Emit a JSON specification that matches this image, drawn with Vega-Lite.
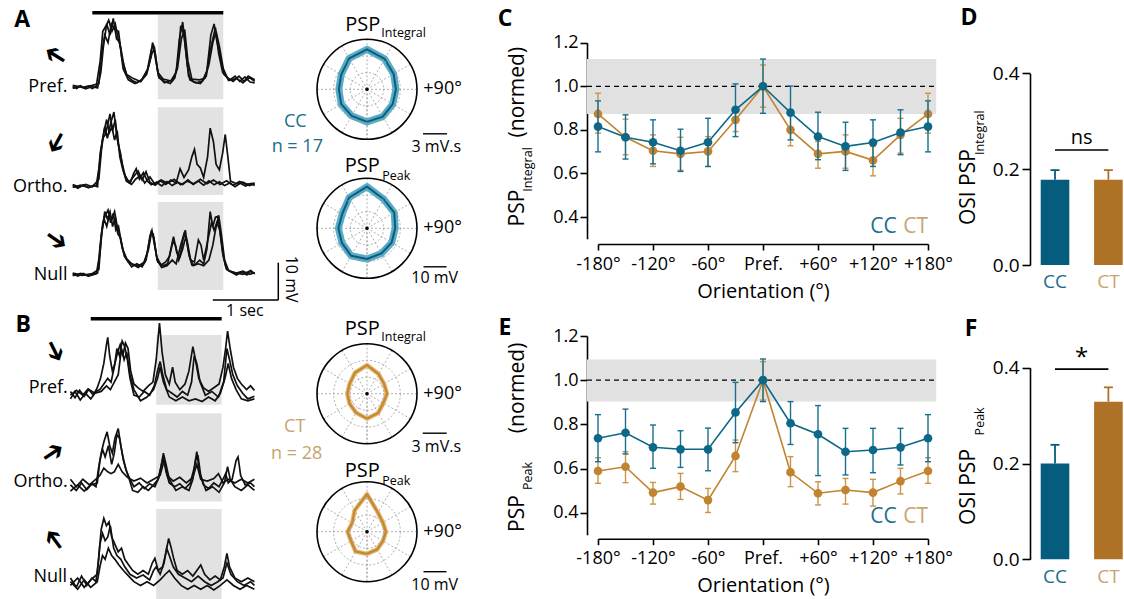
{
"$schema": "https://vega.github.io/schema/vega-lite/v6.json",
"padding": 0,
"background": "white",
"bounds": "flush",
"spacing": 0,
"columns": 4,
"config": {
 "view": {"stroke": null},
 "font": "Open Sans",
 "text": {"font": "Open Sans", "color": "#000"},
 "axis": {"grid": false, "domainColor": "#000", "domainWidth": 1.6, "tickColor": "#000", "tickWidth": 1.6, "labelColor": "#000", "labelFont": "Open Sans", "labelFontSize": 18, "titleFont": "Open Sans", "titleFontSize": 20, "titleFontWeight": "normal", "titleColor": "#000", "labelFlush": false, "labelOverlap": false}
},
"datasets": {
"traces": [
{"k":"AP","s":1,"t":-0.3,"v":0.2},{"k":"AP","s":1,"t":-0.24,"v":-0.3},{"k":"AP","s":1,"t":-0.18,"v":0.4},{"k":"AP","s":1,"t":-0.12,"v":-0.2},{"k":"AP","s":1,"t":-0.06,"v":0.3},{"k":"AP","s":1,"t":0,"v":-0.3},{"k":"AP","s":1,"t":0.06,"v":0.3},{"k":"AP","s":1,"t":0.12,"v":7},{"k":"AP","s":1,"t":0.16,"v":15},{"k":"AP","s":1,"t":0.21,"v":16.5},{"k":"AP","s":1,"t":0.25,"v":18},{"k":"AP","s":1,"t":0.3,"v":15},{"k":"AP","s":1,"t":0.35,"v":17},{"k":"AP","s":1,"t":0.39,"v":13.5},{"k":"AP","s":1,"t":0.44,"v":10},{"k":"AP","s":1,"t":0.48,"v":6},{"k":"AP","s":1,"t":0.53,"v":3},{"k":"AP","s":1,"t":0.61,"v":1.8},{"k":"AP","s":1,"t":0.68,"v":1.2},{"k":"AP","s":1,"t":0.76,"v":2.2},{"k":"AP","s":1,"t":0.84,"v":4.5},{"k":"AP","s":1,"t":0.9,"v":10},{"k":"AP","s":1,"t":0.93,"v":11.5},{"k":"AP","s":1,"t":0.97,"v":7},{"k":"AP","s":1,"t":1.02,"v":2.5},{"k":"AP","s":1,"t":1.11,"v":1.5},{"k":"AP","s":1,"t":1.19,"v":1},{"k":"AP","s":1,"t":1.26,"v":2.5},{"k":"AP","s":1,"t":1.31,"v":7},{"k":"AP","s":1,"t":1.35,"v":16.5},{"k":"AP","s":1,"t":1.4,"v":14},{"k":"AP","s":1,"t":1.45,"v":6},{"k":"AP","s":1,"t":1.49,"v":2},{"k":"AP","s":1,"t":1.58,"v":1.2},{"k":"AP","s":1,"t":1.68,"v":1.6},{"k":"AP","s":1,"t":1.75,"v":4.5},{"k":"AP","s":1,"t":1.81,"v":14},{"k":"AP","s":1,"t":1.86,"v":17},{"k":"AP","s":1,"t":1.9,"v":12.5},{"k":"AP","s":1,"t":1.95,"v":8.5},{"k":"AP","s":1,"t":2.01,"v":3.5},{"k":"AP","s":1,"t":2.1,"v":2},{"k":"AP","s":1,"t":2.18,"v":3},{"k":"AP","s":1,"t":2.25,"v":1.6},{"k":"AP","s":1,"t":2.33,"v":2.8},{"k":"AP","s":1,"t":2.41,"v":1.4},{"k":"AP","s":1,"t":2.48,"v":1.2},
{"k":"AP","s":2,"t":-0.3,"v":-0.3},{"k":"AP","s":2,"t":-0.2,"v":0.3},{"k":"AP","s":2,"t":-0.1,"v":-0.4},{"k":"AP","s":2,"t":0,"v":0.2},{"k":"AP","s":2,"t":0.08,"v":-0.2},{"k":"AP","s":2,"t":0.13,"v":4},{"k":"AP","s":2,"t":0.17,"v":11},{"k":"AP","s":2,"t":0.22,"v":17},{"k":"AP","s":2,"t":0.27,"v":14},{"k":"AP","s":2,"t":0.32,"v":18.5},{"k":"AP","s":2,"t":0.37,"v":13},{"k":"AP","s":2,"t":0.42,"v":12},{"k":"AP","s":2,"t":0.47,"v":5},{"k":"AP","s":2,"t":0.55,"v":2},{"k":"AP","s":2,"t":0.65,"v":1},{"k":"AP","s":2,"t":0.75,"v":1.8},{"k":"AP","s":2,"t":0.83,"v":3.5},{"k":"AP","s":2,"t":0.89,"v":8},{"k":"AP","s":2,"t":0.92,"v":12},{"k":"AP","s":2,"t":0.96,"v":9},{"k":"AP","s":2,"t":1.01,"v":3},{"k":"AP","s":2,"t":1.1,"v":1.2},{"k":"AP","s":2,"t":1.2,"v":1.8},{"k":"AP","s":2,"t":1.28,"v":4},{"k":"AP","s":2,"t":1.33,"v":13},{"k":"AP","s":2,"t":1.38,"v":17.5},{"k":"AP","s":2,"t":1.42,"v":11},{"k":"AP","s":2,"t":1.47,"v":3},{"k":"AP","s":2,"t":1.55,"v":1.4},{"k":"AP","s":2,"t":1.65,"v":1},{"k":"AP","s":2,"t":1.74,"v":3},{"k":"AP","s":2,"t":1.79,"v":9},{"k":"AP","s":2,"t":1.84,"v":13},{"k":"AP","s":2,"t":1.88,"v":16},{"k":"AP","s":2,"t":1.93,"v":9},{"k":"AP","s":2,"t":1.99,"v":4},{"k":"AP","s":2,"t":2.06,"v":2.6},{"k":"AP","s":2,"t":2.15,"v":1.6},{"k":"AP","s":2,"t":2.24,"v":3},{"k":"AP","s":2,"t":2.32,"v":1.5},{"k":"AP","s":2,"t":2.4,"v":2.6},{"k":"AP","s":2,"t":2.48,"v":1.6},
{"k":"AP","s":3,"t":-0.3,"v":0.5},{"k":"AP","s":3,"t":-0.15,"v":0},{"k":"AP","s":3,"t":0,"v":0.5},{"k":"AP","s":3,"t":0.1,"v":1},{"k":"AP","s":3,"t":0.14,"v":9},{"k":"AP","s":3,"t":0.19,"v":14},{"k":"AP","s":3,"t":0.24,"v":12},{"k":"AP","s":3,"t":0.29,"v":17},{"k":"AP","s":3,"t":0.34,"v":15.5},{"k":"AP","s":3,"t":0.4,"v":15},{"k":"AP","s":3,"t":0.45,"v":8},{"k":"AP","s":3,"t":0.52,"v":3.5},{"k":"AP","s":3,"t":0.62,"v":2.4},{"k":"AP","s":3,"t":0.74,"v":1.5},{"k":"AP","s":3,"t":0.85,"v":5},{"k":"AP","s":3,"t":0.91,"v":9},{"k":"AP","s":3,"t":0.95,"v":10.5},{"k":"AP","s":3,"t":1,"v":4},{"k":"AP","s":3,"t":1.08,"v":2.2},{"k":"AP","s":3,"t":1.22,"v":1.6},{"k":"AP","s":3,"t":1.3,"v":5},{"k":"AP","s":3,"t":1.36,"v":13},{"k":"AP","s":3,"t":1.41,"v":15.5},{"k":"AP","s":3,"t":1.46,"v":7},{"k":"AP","s":3,"t":1.52,"v":2.2},{"k":"AP","s":3,"t":1.64,"v":2},{"k":"AP","s":3,"t":1.72,"v":2.5},{"k":"AP","s":3,"t":1.78,"v":6},{"k":"AP","s":3,"t":1.84,"v":12},{"k":"AP","s":3,"t":1.89,"v":15},{"k":"AP","s":3,"t":1.94,"v":11},{"k":"AP","s":3,"t":2,"v":5},{"k":"AP","s":3,"t":2.08,"v":1.8},{"k":"AP","s":3,"t":2.2,"v":2.4},{"k":"AP","s":3,"t":2.3,"v":1.2},{"k":"AP","s":3,"t":2.38,"v":3},{"k":"AP","s":3,"t":2.48,"v":2},
{"k":"AO","s":1,"t":-0.3,"v":0.3},{"k":"AO","s":1,"t":-0.22,"v":-0.4},{"k":"AO","s":1,"t":-0.14,"v":0.5},{"k":"AO","s":1,"t":-0.06,"v":-0.3},{"k":"AO","s":1,"t":0.02,"v":0.4},{"k":"AO","s":1,"t":0.08,"v":0},{"k":"AO","s":1,"t":0.12,"v":9},{"k":"AO","s":1,"t":0.16,"v":13},{"k":"AO","s":1,"t":0.2,"v":14},{"k":"AO","s":1,"t":0.24,"v":17},{"k":"AO","s":1,"t":0.27,"v":19.5},{"k":"AO","s":1,"t":0.31,"v":15},{"k":"AO","s":1,"t":0.35,"v":18},{"k":"AO","s":1,"t":0.39,"v":12},{"k":"AO","s":1,"t":0.43,"v":9},{"k":"AO","s":1,"t":0.47,"v":4.5},{"k":"AO","s":1,"t":0.52,"v":2},{"k":"AO","s":1,"t":0.58,"v":1},{"k":"AO","s":1,"t":0.63,"v":3.5},{"k":"AO","s":1,"t":0.67,"v":4.8},{"k":"AO","s":1,"t":0.72,"v":2},{"k":"AO","s":1,"t":0.78,"v":3.8},{"k":"AO","s":1,"t":0.84,"v":1.5},{"k":"AO","s":1,"t":0.9,"v":0.5},{"k":"AO","s":1,"t":0.98,"v":1.2},{"k":"AO","s":1,"t":1.06,"v":0.2},{"k":"AO","s":1,"t":1.14,"v":1.4},{"k":"AO","s":1,"t":1.22,"v":0.3},{"k":"AO","s":1,"t":1.3,"v":1.2},{"k":"AO","s":1,"t":1.38,"v":0.6},{"k":"AO","s":1,"t":1.46,"v":1.8},{"k":"AO","s":1,"t":1.54,"v":0.6},{"k":"AO","s":1,"t":1.62,"v":1.5},{"k":"AO","s":1,"t":1.7,"v":0.4},{"k":"AO","s":1,"t":1.78,"v":1.6},{"k":"AO","s":1,"t":1.86,"v":0.5},{"k":"AO","s":1,"t":1.94,"v":1.3},{"k":"AO","s":1,"t":2.02,"v":0.3},{"k":"AO","s":1,"t":2.1,"v":1},{"k":"AO","s":1,"t":2.18,"v":0},{"k":"AO","s":1,"t":2.26,"v":0.9},{"k":"AO","s":1,"t":2.34,"v":0.2},{"k":"AO","s":1,"t":2.42,"v":0.8},{"k":"AO","s":1,"t":2.48,"v":0.3},
{"k":"AO","s":2,"t":-0.3,"v":-0.2},{"k":"AO","s":2,"t":-0.18,"v":0.4},{"k":"AO","s":2,"t":-0.06,"v":-0.2},{"k":"AO","s":2,"t":0.06,"v":0.3},{"k":"AO","s":2,"t":0.11,"v":6},{"k":"AO","s":2,"t":0.15,"v":12},{"k":"AO","s":2,"t":0.19,"v":16},{"k":"AO","s":2,"t":0.23,"v":13},{"k":"AO","s":2,"t":0.28,"v":17},{"k":"AO","s":2,"t":0.33,"v":20},{"k":"AO","s":2,"t":0.37,"v":14},{"k":"AO","s":2,"t":0.41,"v":10},{"k":"AO","s":2,"t":0.46,"v":6},{"k":"AO","s":2,"t":0.5,"v":3},{"k":"AO","s":2,"t":0.56,"v":1.2},{"k":"AO","s":2,"t":0.62,"v":2.5},{"k":"AO","s":2,"t":0.7,"v":4.2},{"k":"AO","s":2,"t":0.76,"v":1.8},{"k":"AO","s":2,"t":0.82,"v":4},{"k":"AO","s":2,"t":0.88,"v":1.2},{"k":"AO","s":2,"t":0.96,"v":0.4},{"k":"AO","s":2,"t":1.04,"v":1.6},{"k":"AO","s":2,"t":1.12,"v":0.6},{"k":"AO","s":2,"t":1.2,"v":1.8},{"k":"AO","s":2,"t":1.28,"v":1},{"k":"AO","s":2,"t":1.34,"v":4.8},{"k":"AO","s":2,"t":1.4,"v":2.5},{"k":"AO","s":2,"t":1.47,"v":4.5},{"k":"AO","s":2,"t":1.52,"v":8},{"k":"AO","s":2,"t":1.56,"v":10},{"k":"AO","s":2,"t":1.6,"v":6},{"k":"AO","s":2,"t":1.65,"v":5},{"k":"AO","s":2,"t":1.7,"v":2.5},{"k":"AO","s":2,"t":1.76,"v":8},{"k":"AO","s":2,"t":1.8,"v":15.7},{"k":"AO","s":2,"t":1.85,"v":12},{"k":"AO","s":2,"t":1.89,"v":6},{"k":"AO","s":2,"t":1.94,"v":4.5},{"k":"AO","s":2,"t":1.99,"v":9},{"k":"AO","s":2,"t":2.03,"v":14},{"k":"AO","s":2,"t":2.07,"v":8},{"k":"AO","s":2,"t":2.11,"v":1.5},{"k":"AO","s":2,"t":2.2,"v":0.8},{"k":"AO","s":2,"t":2.3,"v":1.2},{"k":"AO","s":2,"t":2.4,"v":0.3},{"k":"AO","s":2,"t":2.48,"v":0.8},
{"k":"AO","s":3,"t":-0.3,"v":0.6},{"k":"AO","s":3,"t":-0.2,"v":-0.1},{"k":"AO","s":3,"t":-0.1,"v":0.6},{"k":"AO","s":3,"t":0,"v":0},{"k":"AO","s":3,"t":0.1,"v":2},{"k":"AO","s":3,"t":0.14,"v":10},{"k":"AO","s":3,"t":0.18,"v":15},{"k":"AO","s":3,"t":0.22,"v":18},{"k":"AO","s":3,"t":0.26,"v":14.5},{"k":"AO","s":3,"t":0.3,"v":16},{"k":"AO","s":3,"t":0.34,"v":12.5},{"k":"AO","s":3,"t":0.38,"v":15},{"k":"AO","s":3,"t":0.42,"v":8},{"k":"AO","s":3,"t":0.46,"v":5},{"k":"AO","s":3,"t":0.52,"v":1.5},{"k":"AO","s":3,"t":0.6,"v":0.6},{"k":"AO","s":3,"t":0.66,"v":2},{"k":"AO","s":3,"t":0.74,"v":3},{"k":"AO","s":3,"t":0.8,"v":1},{"k":"AO","s":3,"t":0.88,"v":2.6},{"k":"AO","s":3,"t":0.95,"v":0.8},{"k":"AO","s":3,"t":1.05,"v":1.8},{"k":"AO","s":3,"t":1.15,"v":0.9},{"k":"AO","s":3,"t":1.25,"v":2},{"k":"AO","s":3,"t":1.35,"v":0.5},{"k":"AO","s":3,"t":1.45,"v":1.5},{"k":"AO","s":3,"t":1.55,"v":0.8},{"k":"AO","s":3,"t":1.65,"v":2},{"k":"AO","s":3,"t":1.75,"v":0.8},{"k":"AO","s":3,"t":1.85,"v":1.8},{"k":"AO","s":3,"t":1.95,"v":0.6},{"k":"AO","s":3,"t":2.05,"v":1.6},{"k":"AO","s":3,"t":2.15,"v":0.4},{"k":"AO","s":3,"t":2.25,"v":1.4},{"k":"AO","s":3,"t":2.35,"v":0.6},{"k":"AO","s":3,"t":2.48,"v":1},
{"k":"AN","s":1,"t":-0.3,"v":0.3},{"k":"AN","s":1,"t":-0.22,"v":-0.3},{"k":"AN","s":1,"t":-0.14,"v":0.4},{"k":"AN","s":1,"t":-0.06,"v":-0.2},{"k":"AN","s":1,"t":0.02,"v":0.3},{"k":"AN","s":1,"t":0.08,"v":0.5},{"k":"AN","s":1,"t":0.12,"v":8},{"k":"AN","s":1,"t":0.16,"v":14},{"k":"AN","s":1,"t":0.2,"v":16},{"k":"AN","s":1,"t":0.24,"v":17.4},{"k":"AN","s":1,"t":0.28,"v":14},{"k":"AN","s":1,"t":0.32,"v":16.5},{"k":"AN","s":1,"t":0.36,"v":12},{"k":"AN","s":1,"t":0.4,"v":13},{"k":"AN","s":1,"t":0.44,"v":9},{"k":"AN","s":1,"t":0.49,"v":5},{"k":"AN","s":1,"t":0.55,"v":3.5},{"k":"AN","s":1,"t":0.62,"v":2.8},{"k":"AN","s":1,"t":0.7,"v":2},{"k":"AN","s":1,"t":0.78,"v":3},{"k":"AN","s":1,"t":0.84,"v":6},{"k":"AN","s":1,"t":0.88,"v":10.5},{"k":"AN","s":1,"t":0.91,"v":12},{"k":"AN","s":1,"t":0.95,"v":8},{"k":"AN","s":1,"t":1,"v":3.5},{"k":"AN","s":1,"t":1.08,"v":2.5},{"k":"AN","s":1,"t":1.15,"v":3},{"k":"AN","s":1,"t":1.2,"v":7},{"k":"AN","s":1,"t":1.24,"v":10.3},{"k":"AN","s":1,"t":1.29,"v":6},{"k":"AN","s":1,"t":1.34,"v":5},{"k":"AN","s":1,"t":1.39,"v":10},{"k":"AN","s":1,"t":1.42,"v":12},{"k":"AN","s":1,"t":1.46,"v":7},{"k":"AN","s":1,"t":1.52,"v":2.7},{"k":"AN","s":1,"t":1.58,"v":3},{"k":"AN","s":1,"t":1.64,"v":4},{"k":"AN","s":1,"t":1.7,"v":3},{"k":"AN","s":1,"t":1.75,"v":7},{"k":"AN","s":1,"t":1.8,"v":17},{"k":"AN","s":1,"t":1.84,"v":13},{"k":"AN","s":1,"t":1.88,"v":15.5},{"k":"AN","s":1,"t":1.92,"v":15.7},{"k":"AN","s":1,"t":1.96,"v":10},{"k":"AN","s":1,"t":2,"v":5},{"k":"AN","s":1,"t":2.05,"v":1.5},{"k":"AN","s":1,"t":2.12,"v":0.8},{"k":"AN","s":1,"t":2.2,"v":0},{"k":"AN","s":1,"t":2.28,"v":0.8},{"k":"AN","s":1,"t":2.36,"v":0},{"k":"AN","s":1,"t":2.42,"v":1.2},{"k":"AN","s":1,"t":2.48,"v":0.3},
{"k":"AN","s":2,"t":-0.3,"v":-0.2},{"k":"AN","s":2,"t":-0.18,"v":0.4},{"k":"AN","s":2,"t":-0.06,"v":-0.3},{"k":"AN","s":2,"t":0.06,"v":0.3},{"k":"AN","s":2,"t":0.11,"v":5},{"k":"AN","s":2,"t":0.15,"v":12},{"k":"AN","s":2,"t":0.19,"v":17},{"k":"AN","s":2,"t":0.23,"v":15},{"k":"AN","s":2,"t":0.27,"v":17},{"k":"AN","s":2,"t":0.31,"v":13},{"k":"AN","s":2,"t":0.35,"v":15.5},{"k":"AN","s":2,"t":0.39,"v":11},{"k":"AN","s":2,"t":0.43,"v":10},{"k":"AN","s":2,"t":0.47,"v":6.5},{"k":"AN","s":2,"t":0.53,"v":4},{"k":"AN","s":2,"t":0.6,"v":2.2},{"k":"AN","s":2,"t":0.68,"v":3},{"k":"AN","s":2,"t":0.76,"v":2.2},{"k":"AN","s":2,"t":0.82,"v":4},{"k":"AN","s":2,"t":0.87,"v":9},{"k":"AN","s":2,"t":0.9,"v":11.5},{"k":"AN","s":2,"t":0.94,"v":10},{"k":"AN","s":2,"t":0.99,"v":4},{"k":"AN","s":2,"t":1.06,"v":2},{"k":"AN","s":2,"t":1.14,"v":2.5},{"k":"AN","s":2,"t":1.22,"v":4},{"k":"AN","s":2,"t":1.28,"v":3},{"k":"AN","s":2,"t":1.35,"v":8},{"k":"AN","s":2,"t":1.4,"v":11},{"k":"AN","s":2,"t":1.45,"v":9},{"k":"AN","s":2,"t":1.5,"v":4},{"k":"AN","s":2,"t":1.56,"v":3.5},{"k":"AN","s":2,"t":1.62,"v":9.4},{"k":"AN","s":2,"t":1.66,"v":8},{"k":"AN","s":2,"t":1.7,"v":4},{"k":"AN","s":2,"t":1.76,"v":9},{"k":"AN","s":2,"t":1.82,"v":14},{"k":"AN","s":2,"t":1.86,"v":12},{"k":"AN","s":2,"t":1.9,"v":14},{"k":"AN","s":2,"t":1.95,"v":12},{"k":"AN","s":2,"t":1.99,"v":6},{"k":"AN","s":2,"t":2.04,"v":2},{"k":"AN","s":2,"t":2.1,"v":1},{"k":"AN","s":2,"t":2.2,"v":0.5},{"k":"AN","s":2,"t":2.3,"v":1},{"k":"AN","s":2,"t":2.4,"v":0.2},{"k":"AN","s":2,"t":2.48,"v":0.6},
{"k":"AN","s":3,"t":-0.3,"v":0.5},{"k":"AN","s":3,"t":-0.15,"v":-0.1},{"k":"AN","s":3,"t":0,"v":0.4},{"k":"AN","s":3,"t":0.1,"v":1.5},{"k":"AN","s":3,"t":0.14,"v":11},{"k":"AN","s":3,"t":0.18,"v":15},{"k":"AN","s":3,"t":0.22,"v":13},{"k":"AN","s":3,"t":0.26,"v":16},{"k":"AN","s":3,"t":0.3,"v":15},{"k":"AN","s":3,"t":0.34,"v":17},{"k":"AN","s":3,"t":0.38,"v":13},{"k":"AN","s":3,"t":0.42,"v":10.5},{"k":"AN","s":3,"t":0.46,"v":7},{"k":"AN","s":3,"t":0.52,"v":4.5},{"k":"AN","s":3,"t":0.6,"v":3},{"k":"AN","s":3,"t":0.7,"v":2.4},{"k":"AN","s":3,"t":0.8,"v":3.5},{"k":"AN","s":3,"t":0.86,"v":7},{"k":"AN","s":3,"t":0.9,"v":11},{"k":"AN","s":3,"t":0.93,"v":11},{"k":"AN","s":3,"t":0.98,"v":5},{"k":"AN","s":3,"t":1.05,"v":2.6},{"k":"AN","s":3,"t":1.12,"v":3.5},{"k":"AN","s":3,"t":1.18,"v":5},{"k":"AN","s":3,"t":1.23,"v":9},{"k":"AN","s":3,"t":1.27,"v":8},{"k":"AN","s":3,"t":1.32,"v":4},{"k":"AN","s":3,"t":1.38,"v":7},{"k":"AN","s":3,"t":1.43,"v":10.5},{"k":"AN","s":3,"t":1.48,"v":5},{"k":"AN","s":3,"t":1.54,"v":2.5},{"k":"AN","s":3,"t":1.62,"v":3},{"k":"AN","s":3,"t":1.7,"v":2.5},{"k":"AN","s":3,"t":1.78,"v":4},{"k":"AN","s":3,"t":1.84,"v":8},{"k":"AN","s":3,"t":1.88,"v":12},{"k":"AN","s":3,"t":1.93,"v":16},{"k":"AN","s":3,"t":1.97,"v":11},{"k":"AN","s":3,"t":2.02,"v":4},{"k":"AN","s":3,"t":2.08,"v":1.2},{"k":"AN","s":3,"t":2.18,"v":0.6},{"k":"AN","s":3,"t":2.3,"v":0.2},{"k":"AN","s":3,"t":2.4,"v":1},{"k":"AN","s":3,"t":2.48,"v":0.4},
{"k":"BP","s":1,"t":-0.31,"v":0.5},{"k":"BP","s":1,"t":-0.24,"v":-1.2},{"k":"BP","s":1,"t":-0.17,"v":0.8},{"k":"BP","s":1,"t":-0.1,"v":-0.8},{"k":"BP","s":1,"t":-0.03,"v":1},{"k":"BP","s":1,"t":0.04,"v":-0.5},{"k":"BP","s":1,"t":0.1,"v":1.5},{"k":"BP","s":1,"t":0.15,"v":4},{"k":"BP","s":1,"t":0.2,"v":8},{"k":"BP","s":1,"t":0.24,"v":13},{"k":"BP","s":1,"t":0.26,"v":15},{"k":"BP","s":1,"t":0.29,"v":10},{"k":"BP","s":1,"t":0.33,"v":6},{"k":"BP","s":1,"t":0.37,"v":8},{"k":"BP","s":1,"t":0.41,"v":11},{"k":"BP","s":1,"t":0.45,"v":13},{"k":"BP","s":1,"t":0.49,"v":10},{"k":"BP","s":1,"t":0.53,"v":13.5},{"k":"BP","s":1,"t":0.57,"v":12},{"k":"BP","s":1,"t":0.61,"v":6},{"k":"BP","s":1,"t":0.66,"v":2.5},{"k":"BP","s":1,"t":0.72,"v":1.5},{"k":"BP","s":1,"t":0.8,"v":0.5},{"k":"BP","s":1,"t":0.88,"v":2},{"k":"BP","s":1,"t":0.95,"v":3},{"k":"BP","s":1,"t":1,"v":9},{"k":"BP","s":1,"t":1.05,"v":18.8},{"k":"BP","s":1,"t":1.09,"v":11},{"k":"BP","s":1,"t":1.14,"v":5},{"k":"BP","s":1,"t":1.2,"v":2.5},{"k":"BP","s":1,"t":1.25,"v":7},{"k":"BP","s":1,"t":1.29,"v":3},{"k":"BP","s":1,"t":1.36,"v":1},{"k":"BP","s":1,"t":1.44,"v":2.5},{"k":"BP","s":1,"t":1.5,"v":6},{"k":"BP","s":1,"t":1.56,"v":12.5},{"k":"BP","s":1,"t":1.6,"v":9},{"k":"BP","s":1,"t":1.65,"v":4},{"k":"BP","s":1,"t":1.72,"v":1.5},{"k":"BP","s":1,"t":1.8,"v":0.5},{"k":"BP","s":1,"t":1.88,"v":1.5},{"k":"BP","s":1,"t":1.96,"v":2.5},{"k":"BP","s":1,"t":2.02,"v":7},{"k":"BP","s":1,"t":2.06,"v":12},{"k":"BP","s":1,"t":2.09,"v":16.7},{"k":"BP","s":1,"t":2.13,"v":12},{"k":"BP","s":1,"t":2.18,"v":7},{"k":"BP","s":1,"t":2.24,"v":4},{"k":"BP","s":1,"t":2.3,"v":2.5},{"k":"BP","s":1,"t":2.38,"v":1},{"k":"BP","s":1,"t":2.44,"v":2},{"k":"BP","s":1,"t":2.5,"v":0.8},
{"k":"BP","s":2,"t":-0.31,"v":-1.5},{"k":"BP","s":2,"t":-0.24,"v":0.5},{"k":"BP","s":2,"t":-0.16,"v":-1.8},{"k":"BP","s":2,"t":-0.08,"v":0},{"k":"BP","s":2,"t":0,"v":-1.5},{"k":"BP","s":2,"t":0.08,"v":0.5},{"k":"BP","s":2,"t":0.14,"v":1},{"k":"BP","s":2,"t":0.2,"v":2.5},{"k":"BP","s":2,"t":0.26,"v":4},{"k":"BP","s":2,"t":0.31,"v":3},{"k":"BP","s":2,"t":0.36,"v":7},{"k":"BP","s":2,"t":0.4,"v":12},{"k":"BP","s":2,"t":0.44,"v":10},{"k":"BP","s":2,"t":0.48,"v":14},{"k":"BP","s":2,"t":0.52,"v":12.5},{"k":"BP","s":2,"t":0.56,"v":9},{"k":"BP","s":2,"t":0.6,"v":4},{"k":"BP","s":2,"t":0.66,"v":-0.5},{"k":"BP","s":2,"t":0.74,"v":-1},{"k":"BP","s":2,"t":0.82,"v":0.5},{"k":"BP","s":2,"t":0.9,"v":-0.5},{"k":"BP","s":2,"t":0.97,"v":2},{"k":"BP","s":2,"t":1.02,"v":6},{"k":"BP","s":2,"t":1.06,"v":8.5},{"k":"BP","s":2,"t":1.1,"v":5},{"k":"BP","s":2,"t":1.16,"v":1},{"k":"BP","s":2,"t":1.24,"v":0},{"k":"BP","s":2,"t":1.32,"v":-1},{"k":"BP","s":2,"t":1.4,"v":0.5},{"k":"BP","s":2,"t":1.48,"v":-0.5},{"k":"BP","s":2,"t":1.54,"v":3},{"k":"BP","s":2,"t":1.58,"v":10},{"k":"BP","s":2,"t":1.62,"v":8},{"k":"BP","s":2,"t":1.67,"v":3},{"k":"BP","s":2,"t":1.75,"v":-0.5},{"k":"BP","s":2,"t":1.85,"v":0.5},{"k":"BP","s":2,"t":1.95,"v":-1},{"k":"BP","s":2,"t":2.03,"v":3},{"k":"BP","s":2,"t":2.08,"v":12},{"k":"BP","s":2,"t":2.12,"v":9},{"k":"BP","s":2,"t":2.17,"v":5},{"k":"BP","s":2,"t":2.24,"v":2},{"k":"BP","s":2,"t":2.32,"v":0},{"k":"BP","s":2,"t":2.4,"v":-1.5},{"k":"BP","s":2,"t":2.5,"v":-0.8},
{"k":"BP","s":3,"t":-0.31,"v":-0.5},{"k":"BP","s":3,"t":-0.22,"v":0.8},{"k":"BP","s":3,"t":-0.12,"v":-0.5},{"k":"BP","s":3,"t":-0.04,"v":1.2},{"k":"BP","s":3,"t":0.06,"v":0},{"k":"BP","s":3,"t":0.16,"v":0.5},{"k":"BP","s":3,"t":0.24,"v":2},{"k":"BP","s":3,"t":0.3,"v":1},{"k":"BP","s":3,"t":0.36,"v":3},{"k":"BP","s":3,"t":0.42,"v":5},{"k":"BP","s":3,"t":0.47,"v":12},{"k":"BP","s":3,"t":0.51,"v":9},{"k":"BP","s":3,"t":0.55,"v":11},{"k":"BP","s":3,"t":0.6,"v":5},{"k":"BP","s":3,"t":0.66,"v":1},{"k":"BP","s":3,"t":0.76,"v":-2},{"k":"BP","s":3,"t":0.86,"v":-1},{"k":"BP","s":3,"t":0.96,"v":1},{"k":"BP","s":3,"t":1.02,"v":4},{"k":"BP","s":3,"t":1.06,"v":7},{"k":"BP","s":3,"t":1.11,"v":3},{"k":"BP","s":3,"t":1.2,"v":-1},{"k":"BP","s":3,"t":1.3,"v":-2},{"k":"BP","s":3,"t":1.4,"v":-1},{"k":"BP","s":3,"t":1.5,"v":-2},{"k":"BP","s":3,"t":1.6,"v":-1.5},{"k":"BP","s":3,"t":1.7,"v":-2.2},{"k":"BP","s":3,"t":1.8,"v":-1},{"k":"BP","s":3,"t":1.9,"v":-2},{"k":"BP","s":3,"t":1.98,"v":0},{"k":"BP","s":3,"t":2.05,"v":4},{"k":"BP","s":3,"t":2.1,"v":8},{"k":"BP","s":3,"t":2.15,"v":4},{"k":"BP","s":3,"t":2.22,"v":1},{"k":"BP","s":3,"t":2.3,"v":-1.5},{"k":"BP","s":3,"t":2.4,"v":-2},{"k":"BP","s":3,"t":2.5,"v":-1.5},
{"k":"BO","s":1,"t":-0.31,"v":0.5},{"k":"BO","s":1,"t":-0.22,"v":-1},{"k":"BO","s":1,"t":-0.14,"v":1},{"k":"BO","s":1,"t":-0.06,"v":-0.8},{"k":"BO","s":1,"t":0.02,"v":0.8},{"k":"BO","s":1,"t":0.08,"v":0},{"k":"BO","s":1,"t":0.12,"v":5},{"k":"BO","s":1,"t":0.16,"v":9},{"k":"BO","s":1,"t":0.2,"v":12},{"k":"BO","s":1,"t":0.25,"v":14.7},{"k":"BO","s":1,"t":0.29,"v":11},{"k":"BO","s":1,"t":0.33,"v":9},{"k":"BO","s":1,"t":0.37,"v":13},{"k":"BO","s":1,"t":0.42,"v":15.6},{"k":"BO","s":1,"t":0.46,"v":11},{"k":"BO","s":1,"t":0.5,"v":7},{"k":"BO","s":1,"t":0.55,"v":4},{"k":"BO","s":1,"t":0.6,"v":2},{"k":"BO","s":1,"t":0.66,"v":0},{"k":"BO","s":1,"t":0.74,"v":1},{"k":"BO","s":1,"t":0.82,"v":-0.5},{"k":"BO","s":1,"t":0.9,"v":0.8},{"k":"BO","s":1,"t":0.98,"v":0},{"k":"BO","s":1,"t":1.04,"v":2.5},{"k":"BO","s":1,"t":1.08,"v":6},{"k":"BO","s":1,"t":1.11,"v":8},{"k":"BO","s":1,"t":1.15,"v":4},{"k":"BO","s":1,"t":1.2,"v":1},{"k":"BO","s":1,"t":1.28,"v":0},{"k":"BO","s":1,"t":1.36,"v":0.8},{"k":"BO","s":1,"t":1.44,"v":-0.5},{"k":"BO","s":1,"t":1.52,"v":1},{"k":"BO","s":1,"t":1.58,"v":5},{"k":"BO","s":1,"t":1.62,"v":9.4},{"k":"BO","s":1,"t":1.66,"v":4},{"k":"BO","s":1,"t":1.72,"v":0.5},{"k":"BO","s":1,"t":1.8,"v":-0.5},{"k":"BO","s":1,"t":1.88,"v":1},{"k":"BO","s":1,"t":1.96,"v":0},{"k":"BO","s":1,"t":2.02,"v":2},{"k":"BO","s":1,"t":2.06,"v":3.5},{"k":"BO","s":1,"t":2.1,"v":1},{"k":"BO","s":1,"t":2.16,"v":2},{"k":"BO","s":1,"t":2.22,"v":7},{"k":"BO","s":1,"t":2.25,"v":8},{"k":"BO","s":1,"t":2.29,"v":3},{"k":"BO","s":1,"t":2.36,"v":0.5},{"k":"BO","s":1,"t":2.44,"v":1},{"k":"BO","s":1,"t":2.5,"v":0},
{"k":"BO","s":2,"t":-0.31,"v":-1.2},{"k":"BO","s":2,"t":-0.2,"v":0.5},{"k":"BO","s":2,"t":-0.1,"v":-1.2},{"k":"BO","s":2,"t":0,"v":0.5},{"k":"BO","s":2,"t":0.1,"v":1},{"k":"BO","s":2,"t":0.14,"v":7},{"k":"BO","s":2,"t":0.18,"v":10},{"k":"BO","s":2,"t":0.22,"v":8},{"k":"BO","s":2,"t":0.27,"v":11},{"k":"BO","s":2,"t":0.32,"v":6},{"k":"BO","s":2,"t":0.36,"v":9},{"k":"BO","s":2,"t":0.4,"v":14},{"k":"BO","s":2,"t":0.44,"v":13},{"k":"BO","s":2,"t":0.48,"v":9},{"k":"BO","s":2,"t":0.53,"v":5},{"k":"BO","s":2,"t":0.58,"v":2.5},{"k":"BO","s":2,"t":0.64,"v":-1},{"k":"BO","s":2,"t":0.72,"v":-1.5},{"k":"BO","s":2,"t":0.8,"v":0},{"k":"BO","s":2,"t":0.88,"v":-1},{"k":"BO","s":2,"t":0.96,"v":0.5},{"k":"BO","s":2,"t":1.03,"v":2},{"k":"BO","s":2,"t":1.07,"v":5},{"k":"BO","s":2,"t":1.11,"v":9},{"k":"BO","s":2,"t":1.15,"v":6},{"k":"BO","s":2,"t":1.2,"v":2},{"k":"BO","s":2,"t":1.3,"v":-1},{"k":"BO","s":2,"t":1.4,"v":0},{"k":"BO","s":2,"t":1.5,"v":-1},{"k":"BO","s":2,"t":1.56,"v":2},{"k":"BO","s":2,"t":1.6,"v":7},{"k":"BO","s":2,"t":1.64,"v":8},{"k":"BO","s":2,"t":1.68,"v":3},{"k":"BO","s":2,"t":1.76,"v":-1},{"k":"BO","s":2,"t":1.86,"v":0},{"k":"BO","s":2,"t":1.96,"v":-1.5},{"k":"BO","s":2,"t":2.04,"v":1},{"k":"BO","s":2,"t":2.09,"v":5.4},{"k":"BO","s":2,"t":2.13,"v":2},{"k":"BO","s":2,"t":2.2,"v":0},{"k":"BO","s":2,"t":2.3,"v":-1},{"k":"BO","s":2,"t":2.4,"v":0.5},{"k":"BO","s":2,"t":2.5,"v":-1},
{"k":"BO","s":3,"t":-0.31,"v":2},{"k":"BO","s":3,"t":-0.22,"v":0},{"k":"BO","s":3,"t":-0.12,"v":2},{"k":"BO","s":3,"t":-0.02,"v":0.5},{"k":"BO","s":3,"t":0.08,"v":2},{"k":"BO","s":3,"t":0.14,"v":3},{"k":"BO","s":3,"t":0.2,"v":5},{"k":"BO","s":3,"t":0.26,"v":4},{"k":"BO","s":3,"t":0.31,"v":3.5},{"k":"BO","s":3,"t":0.36,"v":4},{"k":"BO","s":3,"t":0.42,"v":6},{"k":"BO","s":3,"t":0.48,"v":4},{"k":"BO","s":3,"t":0.56,"v":2.5},{"k":"BO","s":3,"t":0.66,"v":1.5},{"k":"BO","s":3,"t":0.76,"v":2.3},{"k":"BO","s":3,"t":0.86,"v":1},{"k":"BO","s":3,"t":0.96,"v":2},{"k":"BO","s":3,"t":1.06,"v":3},{"k":"BO","s":3,"t":1.12,"v":7},{"k":"BO","s":3,"t":1.17,"v":3},{"k":"BO","s":3,"t":1.26,"v":1.5},{"k":"BO","s":3,"t":1.36,"v":2.5},{"k":"BO","s":3,"t":1.46,"v":1},{"k":"BO","s":3,"t":1.56,"v":2.5},{"k":"BO","s":3,"t":1.62,"v":6},{"k":"BO","s":3,"t":1.68,"v":2},{"k":"BO","s":3,"t":1.78,"v":1.5},{"k":"BO","s":3,"t":1.88,"v":2.2},{"k":"BO","s":3,"t":1.95,"v":3.5},{"k":"BO","s":3,"t":2.02,"v":1},{"k":"BO","s":3,"t":2.1,"v":2},{"k":"BO","s":3,"t":2.2,"v":1},{"k":"BO","s":3,"t":2.3,"v":2},{"k":"BO","s":3,"t":2.4,"v":1},{"k":"BO","s":3,"t":2.5,"v":2},
{"k":"BN","s":1,"t":-0.31,"v":1},{"k":"BN","s":1,"t":-0.22,"v":-1.5},{"k":"BN","s":1,"t":-0.14,"v":1.5},{"k":"BN","s":1,"t":-0.06,"v":-1},{"k":"BN","s":1,"t":0.02,"v":1},{"k":"BN","s":1,"t":0.08,"v":0},{"k":"BN","s":1,"t":0.12,"v":6},{"k":"BN","s":1,"t":0.16,"v":14},{"k":"BN","s":1,"t":0.2,"v":17},{"k":"BN","s":1,"t":0.24,"v":15},{"k":"BN","s":1,"t":0.28,"v":16},{"k":"BN","s":1,"t":0.32,"v":12},{"k":"BN","s":1,"t":0.37,"v":10},{"k":"BN","s":1,"t":0.42,"v":8},{"k":"BN","s":1,"t":0.47,"v":9},{"k":"BN","s":1,"t":0.52,"v":6},{"k":"BN","s":1,"t":0.58,"v":4.5},{"k":"BN","s":1,"t":0.64,"v":3},{"k":"BN","s":1,"t":0.72,"v":2},{"k":"BN","s":1,"t":0.8,"v":3},{"k":"BN","s":1,"t":0.88,"v":2},{"k":"BN","s":1,"t":0.94,"v":5},{"k":"BN","s":1,"t":0.98,"v":6.3},{"k":"BN","s":1,"t":1.03,"v":3},{"k":"BN","s":1,"t":1.1,"v":4},{"k":"BN","s":1,"t":1.15,"v":8},{"k":"BN","s":1,"t":1.19,"v":11.6},{"k":"BN","s":1,"t":1.23,"v":9},{"k":"BN","s":1,"t":1.27,"v":6},{"k":"BN","s":1,"t":1.32,"v":3},{"k":"BN","s":1,"t":1.4,"v":2},{"k":"BN","s":1,"t":1.48,"v":3},{"k":"BN","s":1,"t":1.56,"v":1.5},{"k":"BN","s":1,"t":1.64,"v":3.5},{"k":"BN","s":1,"t":1.68,"v":4.5},{"k":"BN","s":1,"t":1.74,"v":2},{"k":"BN","s":1,"t":1.82,"v":0.5},{"k":"BN","s":1,"t":1.9,"v":1.5},{"k":"BN","s":1,"t":1.98,"v":0.5},{"k":"BN","s":1,"t":2.04,"v":4},{"k":"BN","s":1,"t":2.08,"v":7.6},{"k":"BN","s":1,"t":2.12,"v":4},{"k":"BN","s":1,"t":2.2,"v":1},{"k":"BN","s":1,"t":2.3,"v":0},{"k":"BN","s":1,"t":2.4,"v":1},{"k":"BN","s":1,"t":2.5,"v":0},
{"k":"BN","s":2,"t":-0.31,"v":-1},{"k":"BN","s":2,"t":-0.2,"v":1},{"k":"BN","s":2,"t":-0.1,"v":-1.5},{"k":"BN","s":2,"t":0,"v":0.5},{"k":"BN","s":2,"t":0.1,"v":2},{"k":"BN","s":2,"t":0.14,"v":10},{"k":"BN","s":2,"t":0.18,"v":13},{"k":"BN","s":2,"t":0.22,"v":11},{"k":"BN","s":2,"t":0.26,"v":12},{"k":"BN","s":2,"t":0.3,"v":15},{"k":"BN","s":2,"t":0.35,"v":9},{"k":"BN","s":2,"t":0.4,"v":7},{"k":"BN","s":2,"t":0.46,"v":6},{"k":"BN","s":2,"t":0.52,"v":4},{"k":"BN","s":2,"t":0.6,"v":2},{"k":"BN","s":2,"t":0.7,"v":1},{"k":"BN","s":2,"t":0.8,"v":1.8},{"k":"BN","s":2,"t":0.9,"v":0.5},{"k":"BN","s":2,"t":0.96,"v":3},{"k":"BN","s":2,"t":1,"v":4},{"k":"BN","s":2,"t":1.06,"v":2},{"k":"BN","s":2,"t":1.12,"v":5},{"k":"BN","s":2,"t":1.16,"v":9},{"k":"BN","s":2,"t":1.2,"v":7},{"k":"BN","s":2,"t":1.26,"v":4},{"k":"BN","s":2,"t":1.34,"v":2},{"k":"BN","s":2,"t":1.44,"v":1},{"k":"BN","s":2,"t":1.54,"v":0},{"k":"BN","s":2,"t":1.64,"v":1.5},{"k":"BN","s":2,"t":1.74,"v":0},{"k":"BN","s":2,"t":1.84,"v":-1},{"k":"BN","s":2,"t":1.94,"v":0},{"k":"BN","s":2,"t":2.02,"v":1},{"k":"BN","s":2,"t":2.08,"v":5},{"k":"BN","s":2,"t":2.14,"v":2},{"k":"BN","s":2,"t":2.24,"v":0},{"k":"BN","s":2,"t":2.34,"v":-1},{"k":"BN","s":2,"t":2.44,"v":0},{"k":"BN","s":2,"t":2.5,"v":-1},
{"k":"BN","s":3,"t":-0.31,"v":0},{"k":"BN","s":3,"t":-0.2,"v":-2},{"k":"BN","s":3,"t":-0.1,"v":0.5},{"k":"BN","s":3,"t":0,"v":-1.5},{"k":"BN","s":3,"t":0.1,"v":0},{"k":"BN","s":3,"t":0.14,"v":4},{"k":"BN","s":3,"t":0.18,"v":7},{"k":"BN","s":3,"t":0.22,"v":6},{"k":"BN","s":3,"t":0.27,"v":9},{"k":"BN","s":3,"t":0.32,"v":7},{"k":"BN","s":3,"t":0.37,"v":6},{"k":"BN","s":3,"t":0.43,"v":4.5},{"k":"BN","s":3,"t":0.5,"v":3},{"k":"BN","s":3,"t":0.58,"v":1.5},{"k":"BN","s":3,"t":0.66,"v":0},{"k":"BN","s":3,"t":0.76,"v":-1},{"k":"BN","s":3,"t":0.86,"v":0},{"k":"BN","s":3,"t":0.96,"v":-1},{"k":"BN","s":3,"t":1.06,"v":0.5},{"k":"BN","s":3,"t":1.14,"v":2},{"k":"BN","s":3,"t":1.2,"v":3},{"k":"BN","s":3,"t":1.28,"v":1},{"k":"BN","s":3,"t":1.38,"v":-1},{"k":"BN","s":3,"t":1.48,"v":-2},{"k":"BN","s":3,"t":1.58,"v":-1},{"k":"BN","s":3,"t":1.68,"v":-2},{"k":"BN","s":3,"t":1.78,"v":-1},{"k":"BN","s":3,"t":1.88,"v":-2.2},{"k":"BN","s":3,"t":1.98,"v":-1},{"k":"BN","s":3,"t":2.08,"v":0.5},{"k":"BN","s":3,"t":2.18,"v":-1},{"k":"BN","s":3,"t":2.28,"v":-2},{"k":"BN","s":3,"t":2.38,"v":-1},{"k":"BN","s":3,"t":2.5,"v":-2}
],
"tuning": [
{"pn":"C","g":"CC","o":-180,"m":0.815,"lo":0.699,"hi":0.933},{"pn":"C","g":"CC","o":-150,"m":0.766,"lo":0.666,"hi":0.869},{"pn":"C","g":"CC","o":-120,"m":0.743,"lo":0.644,"hi":0.846},{"pn":"C","g":"CC","o":-90,"m":0.704,"lo":0.609,"hi":0.803},{"pn":"C","g":"CC","o":-60,"m":0.743,"lo":0.632,"hi":0.853},{"pn":"C","g":"CC","o":-30,"m":0.892,"lo":0.769,"hi":1.011},{"pn":"C","g":"CC","o":0,"m":1.0,"lo":0.876,"hi":1.125},{"pn":"C","g":"CC","o":30,"m":0.879,"lo":0.754,"hi":1.001},{"pn":"C","g":"CC","o":60,"m":0.769,"lo":0.663,"hi":0.881},{"pn":"C","g":"CC","o":90,"m":0.724,"lo":0.614,"hi":0.835},{"pn":"C","g":"CC","o":120,"m":0.742,"lo":0.632,"hi":0.846},{"pn":"C","g":"CC","o":150,"m":0.788,"lo":0.686,"hi":0.892},{"pn":"C","g":"CC","o":180,"m":0.815,"lo":0.699,"hi":0.933},
{"pn":"C","g":"CT","o":-180,"m":0.873,"lo":0.785,"hi":0.968},{"pn":"C","g":"CT","o":-150,"m":0.766,"lo":0.686,"hi":0.849},{"pn":"C","g":"CT","o":-120,"m":0.704,"lo":0.632,"hi":0.777},{"pn":"C","g":"CT","o":-90,"m":0.69,"lo":0.614,"hi":0.766},{"pn":"C","g":"CT","o":-60,"m":0.701,"lo":0.632,"hi":0.769},{"pn":"C","g":"CT","o":-30,"m":0.846,"lo":0.792,"hi":0.904},{"pn":"C","g":"CT","o":0,"m":1.0,"lo":0.904,"hi":1.098},{"pn":"C","g":"CT","o":30,"m":0.8,"lo":0.727,"hi":0.876},{"pn":"C","g":"CT","o":60,"m":0.69,"lo":0.624,"hi":0.747},{"pn":"C","g":"CT","o":90,"m":0.701,"lo":0.624,"hi":0.777},{"pn":"C","g":"CT","o":120,"m":0.66,"lo":0.589,"hi":0.724},{"pn":"C","g":"CT","o":150,"m":0.777,"lo":0.693,"hi":0.853},{"pn":"C","g":"CT","o":180,"m":0.873,"lo":0.785,"hi":0.968},
{"pn":"E","g":"CC","o":-180,"m":0.737,"lo":0.631,"hi":0.844},{"pn":"E","g":"CC","o":-150,"m":0.762,"lo":0.666,"hi":0.869},{"pn":"E","g":"CC","o":-120,"m":0.696,"lo":0.601,"hi":0.797},{"pn":"E","g":"CC","o":-90,"m":0.687,"lo":0.605,"hi":0.771},{"pn":"E","g":"CC","o":-60,"m":0.687,"lo":0.59,"hi":0.783},{"pn":"E","g":"CC","o":-30,"m":0.854,"lo":0.717,"hi":0.99},{"pn":"E","g":"CC","o":0,"m":1.0,"lo":0.903,"hi":1.096},{"pn":"E","g":"CC","o":30,"m":0.805,"lo":0.709,"hi":0.903},{"pn":"E","g":"CC","o":60,"m":0.755,"lo":0.568,"hi":0.885},{"pn":"E","g":"CC","o":90,"m":0.676,"lo":0.571,"hi":0.782},{"pn":"E","g":"CC","o":120,"m":0.684,"lo":0.581,"hi":0.782},{"pn":"E","g":"CC","o":150,"m":0.696,"lo":0.616,"hi":0.782},{"pn":"E","g":"CC","o":180,"m":0.737,"lo":0.631,"hi":0.844},
{"pn":"E","g":"CT","o":-180,"m":0.589,"lo":0.533,"hi":0.649},{"pn":"E","g":"CT","o":-150,"m":0.608,"lo":0.536,"hi":0.676},{"pn":"E","g":"CT","o":-120,"m":0.491,"lo":0.439,"hi":0.537},{"pn":"E","g":"CT","o":-90,"m":0.518,"lo":0.46,"hi":0.578},{"pn":"E","g":"CT","o":-60,"m":0.457,"lo":0.401,"hi":0.51},{"pn":"E","g":"CT","o":-30,"m":0.657,"lo":0.586,"hi":0.729},{"pn":"E","g":"CT","o":0,"m":1.0,"lo":0.91,"hi":1.084},{"pn":"E","g":"CT","o":30,"m":0.583,"lo":0.518,"hi":0.654},{"pn":"E","g":"CT","o":60,"m":0.488,"lo":0.435,"hi":0.54},{"pn":"E","g":"CT","o":90,"m":0.503,"lo":0.439,"hi":0.555},{"pn":"E","g":"CT","o":120,"m":0.491,"lo":0.43,"hi":0.551},{"pn":"E","g":"CT","o":150,"m":0.543,"lo":0.485,"hi":0.601},{"pn":"E","g":"CT","o":180,"m":0.589,"lo":0.533,"hi":0.649}
],
"osi": [
{"pn":"D","g":"CC","m":0.178,"hi":0.198},{"pn":"D","g":"CT","m":0.178,"hi":0.198},
{"pn":"F","g":"CC","m":0.2,"hi":0.239},{"pn":"F","g":"CT","m":0.329,"hi":0.359}
],
"one": [{"n": 1}],
"pair": [{"g": "CC"}, {"g": "CT"}]
},
"concat": [
{
 "width": 285, "height": 300,
 "resolve": {"scale": {"y": "independent"}},
 "layer": [
  {"layer": [
    {"data": {"name": "one"}, "layer": [
      {"mark": {"type": "rect", "color": "#e2e2e2"}, "encoding": {"x": {"datum": 1, "type": "quantitative", "scale": {"domain": [-0.35, 2.55], "range": [69.4, 259.3], "nice": false, "zero": false}, "axis": null}, "x2": {"datum": 2}, "y": {"datum": -3.2, "type": "quantitative", "scale": {"domain": [-5, 20], "range": [105.95, 12.7], "nice": false, "zero": false}, "axis": null}, "y2": {"datum": 19.4}}},
      {"mark": {"type": "rule", "color": "#000", "strokeWidth": 3.5}, "encoding": {"x": {"datum": 0, "type": "quantitative", "axis": null}, "x2": {"datum": 2}, "y": {"datum": 20, "type": "quantitative", "axis": null}}},
      {"mark": {"type": "text", "text": "Pref.", "align": "right", "baseline": "middle", "fontSize": 18}, "encoding": {"x": {"datum": -0.38, "type": "quantitative", "axis": null}, "y": {"datum": 0, "type": "quantitative", "axis": null}}},
      {"mark": {"type": "text", "text": "➔", "angle": 211.7, "fontSize": 28, "font": "DejaVu Sans", "align": "center", "baseline": "middle"}, "encoding": {"x": {"datum": -0.557, "type": "quantitative", "axis": null}, "y": {"datum": 8.66, "type": "quantitative", "axis": null}}},
      {"mark": {"type": "text", "text": "A", "fontSize": 23, "fontWeight": "bold", "align": "center", "baseline": "middle"}, "encoding": {"x": {"datum": -1.07, "type": "quantitative", "axis": null}, "y": {"datum": 18, "type": "quantitative", "axis": null}}}
    ]},
    {"data": {"name": "traces"}, "transform": [{"filter": "datum.k == 'AP'"}], "mark": {"type": "line", "color": "#111", "strokeWidth": 1.7},
     "encoding": {"x": {"field": "t", "type": "quantitative", "scale": {"domain": [-0.35, 2.55], "range": [69.4, 259.3], "nice": false, "zero": false}, "axis": null}, "y": {"field": "v", "type": "quantitative", "scale": {"domain": [-5, 20], "range": [105.95, 12.7], "nice": false, "zero": false}, "axis": null}, "detail": {"field": "s"}}}
  ]},
  {"layer": [
    {"data": {"name": "one"}, "layer": [
      {"mark": {"type": "rect", "color": "#e2e2e2"}, "encoding": {"x": {"datum": 1, "type": "quantitative", "scale": {"domain": [-0.35, 2.55], "range": [69.4, 259.3], "nice": false, "zero": false}, "axis": null}, "x2": {"datum": 2}, "y": {"datum": -2.2, "type": "quantitative", "scale": {"domain": [-5, 20], "range": [205.35, 112.1], "nice": false, "zero": false}, "axis": null}, "y2": {"datum": 21.3}}},
      {"mark": {"type": "text", "text": "Ortho.", "align": "right", "baseline": "middle", "fontSize": 18}, "encoding": {"x": {"datum": -0.38, "type": "quantitative", "axis": null}, "y": {"datum": 0, "type": "quantitative", "axis": null}}},
      {"mark": {"type": "text", "text": "➔", "angle": 118.4, "fontSize": 28, "font": "DejaVu Sans", "align": "center", "baseline": "middle"}, "encoding": {"x": {"datum": -0.557, "type": "quantitative", "axis": null}, "y": {"datum": 11.85, "type": "quantitative", "axis": null}}}
    ]},
    {"data": {"name": "traces"}, "transform": [{"filter": "datum.k == 'AO'"}], "mark": {"type": "line", "color": "#111", "strokeWidth": 1.7},
     "encoding": {"x": {"field": "t", "type": "quantitative", "scale": {"domain": [-0.35, 2.55], "range": [69.4, 259.3], "nice": false, "zero": false}, "axis": null}, "y": {"field": "v", "type": "quantitative", "scale": {"domain": [-5, 20], "range": [205.35, 112.1], "nice": false, "zero": false}, "axis": null}, "detail": {"field": "s"}}}
  ]},
  {"layer": [
    {"data": {"name": "one"}, "layer": [
      {"mark": {"type": "rect", "color": "#e2e2e2"}, "encoding": {"x": {"datum": 1, "type": "quantitative", "scale": {"domain": [-0.35, 2.55], "range": [69.4, 259.3], "nice": false, "zero": false}, "axis": null}, "x2": {"datum": 2}, "y": {"datum": -4, "type": "quantitative", "scale": {"domain": [-5, 20], "range": [293.65, 200.4], "nice": false, "zero": false}, "axis": null}, "y2": {"datum": 19.6}}},
      {"mark": {"type": "text", "text": "Null", "align": "right", "baseline": "middle", "fontSize": 18}, "encoding": {"x": {"datum": -0.38, "type": "quantitative", "axis": null}, "y": {"datum": 0, "type": "quantitative", "axis": null}}},
      {"mark": {"type": "text", "text": "➔", "angle": 34.7, "fontSize": 28, "font": "DejaVu Sans", "align": "center", "baseline": "middle"}, "encoding": {"x": {"datum": -0.557, "type": "quantitative", "axis": null}, "y": {"datum": 9.17, "type": "quantitative", "axis": null}}},
      {"mark": {"type": "rule", "color": "#000", "strokeWidth": 1.5}, "encoding": {"x": {"datum": 1.84, "type": "quantitative", "axis": null}, "x2": {"datum": 2.84}, "y": {"datum": -6.7, "type": "quantitative", "axis": null}}},
      {"mark": {"type": "rule", "color": "#000", "strokeWidth": 1.5}, "encoding": {"x": {"datum": 2.84, "type": "quantitative", "axis": null}, "y": {"datum": -6.7, "type": "quantitative", "axis": null}, "y2": {"datum": 3.3}}},
      {"mark": {"type": "text", "text": "1 sec", "align": "center", "baseline": "middle", "fontSize": 16}, "encoding": {"x": {"datum": 2.33, "type": "quantitative", "axis": null}, "y": {"datum": -9.6, "type": "quantitative", "axis": null}}},
      {"mark": {"type": "text", "text": "10 mV", "angle": 90, "align": "center", "baseline": "middle", "fontSize": 16}, "encoding": {"x": {"datum": 3.03, "type": "quantitative", "axis": null}, "y": {"datum": -1.1, "type": "quantitative", "axis": null}}}
    ]},
    {"data": {"name": "traces"}, "transform": [{"filter": "datum.k == 'AN'"}], "mark": {"type": "line", "color": "#111", "strokeWidth": 1.7},
     "encoding": {"x": {"field": "t", "type": "quantitative", "scale": {"domain": [-0.35, 2.55], "range": [69.4, 259.3], "nice": false, "zero": false}, "axis": null}, "y": {"field": "v", "type": "quantitative", "scale": {"domain": [-5, 20], "range": [293.65, 200.4], "nice": false, "zero": false}, "axis": null}, "detail": {"field": "s"}}}
  ]}
 ]
},
{
 "width": 245, "height": 300,
 "resolve": {"scale": {"x": "independent", "y": "independent"}},
 "layer": [
  {"layer": [
    {"data": {"name": "tuning"},
     "transform": [{"filter": "datum.pn == 'C' && datum.g == 'CC'"}, {"calculate": "sin(datum.o * PI / 180)", "as": "sx"}, {"calculate": "cos(datum.o * PI / 180)", "as": "sy"}, {"calculate": "datum.m / 1.25 * datum.sx", "as": "px"}, {"calculate": "datum.m / 1.25 * datum.sy", "as": "py"}],
     "layer": [
      {"mark": {"type": "rule", "color": "#9a9a9a", "strokeDash": [2, 2], "strokeWidth": 0.8}, "encoding": {"x": {"field": "sx", "type": "quantitative", "scale": {"domain": [-1, 1], "range": [32, 132], "nice": false, "zero": false}, "axis": null}, "y": {"field": "sy", "type": "quantitative", "scale": {"domain": [-1, 1], "range": [139.3, 39.3], "nice": false, "zero": false}, "axis": null}, "x2": {"datum": 0}, "y2": {"datum": 0}}},
      {"mark": {"type": "line", "color": "#59acc9", "strokeWidth": 7, "strokeJoin": "round", "strokeCap": "round"}, "encoding": {"x": {"field": "px", "type": "quantitative", "axis": null}, "y": {"field": "py", "type": "quantitative", "axis": null}, "order": {"field": "o", "type": "quantitative"}}},
      {"mark": {"type": "line", "color": "#0b5d78", "strokeWidth": 2, "strokeJoin": "round"}, "encoding": {"x": {"field": "px", "type": "quantitative", "axis": null}, "y": {"field": "py", "type": "quantitative", "axis": null}, "order": {"field": "o", "type": "quantitative"}}}
     ]},
    {"data": {"name": "one"}, "layer": [
      {"mark": {"type": "point", "shape": "circle", "filled": false, "color": "#9a9a9a", "strokeDash": [2, 2], "strokeWidth": 0.8, "size": 1111, "opacity": 1}, "encoding": {"x": {"datum": 0, "type": "quantitative", "axis": null}, "y": {"datum": 0, "type": "quantitative", "axis": null}}},
      {"mark": {"type": "point", "shape": "circle", "filled": false, "color": "#9a9a9a", "strokeDash": [2, 2], "strokeWidth": 0.8, "size": 4444, "opacity": 1}, "encoding": {"x": {"datum": 0, "type": "quantitative", "axis": null}, "y": {"datum": 0, "type": "quantitative", "axis": null}}},
      {"mark": {"type": "point", "shape": "circle", "filled": false, "color": "#000", "strokeWidth": 1.6, "size": 10000, "opacity": 1}, "encoding": {"x": {"datum": 0, "type": "quantitative", "axis": null}, "y": {"datum": 0, "type": "quantitative", "axis": null}}},
      {"mark": {"type": "point", "shape": "circle", "filled": true, "color": "#000", "size": 12, "opacity": 1}, "encoding": {"x": {"datum": 0, "type": "quantitative", "axis": null}, "y": {"datum": 0, "type": "quantitative", "axis": null}}},
      {"mark": {"type": "text", "text": "PSP", "fontSize": 20, "align": "center", "baseline": "alphabetic"}, "encoding": {"x": {"datum": -0.084, "type": "quantitative", "axis": null}, "y": {"datum": 1.17, "type": "quantitative", "axis": null}}},
      {"mark": {"type": "text", "text": "Integral", "fontSize": 12.5, "align": "left", "baseline": "alphabetic"}, "encoding": {"x": {"datum": 0.286, "type": "quantitative", "axis": null}, "y": {"datum": 1.05, "type": "quantitative", "axis": null}}},
      {"mark": {"type": "text", "text": "+90°", "fontSize": 18, "align": "left", "baseline": "middle"}, "encoding": {"x": {"datum": 1.126, "type": "quantitative", "axis": null}, "y": {"datum": 0, "type": "quantitative", "axis": null}}},
      {"mark": {"type": "text", "text": "3 mV.s", "fontSize": 16, "align": "center", "baseline": "alphabetic"}, "encoding": {"x": {"datum": 1.386, "type": "quantitative", "axis": null}, "y": {"datum": -1.25, "type": "quantitative", "axis": null}}},
      {"mark": {"type": "rule", "color": "#000", "strokeWidth": 1.4}, "encoding": {"x": {"datum": 1.12, "type": "quantitative", "axis": null}, "x2": {"datum": 1.6}, "y": {"datum": -0.89, "type": "quantitative", "axis": null}}},
      {"mark": {"type": "text", "text": "CC", "fontSize": 18, "align": "center", "baseline": "middle", "color": "#1b6e8c"}, "encoding": {"x": {"datum": -1.434, "type": "quantitative", "axis": null}, "y": {"datum": -0.66, "type": "quantitative", "axis": null}}},
      {"mark": {"type": "text", "text": "n = 17", "fontSize": 18, "align": "center", "baseline": "middle", "color": "#1b6e8c"}, "encoding": {"x": {"datum": -1.394, "type": "quantitative", "axis": null}, "y": {"datum": -1.16, "type": "quantitative", "axis": null}}}
    ]}
  ]},
  {"layer": [
    {"data": {"name": "tuning"},
     "transform": [{"filter": "datum.pn == 'E' && datum.g == 'CC'"}, {"calculate": "sin(datum.o * PI / 180)", "as": "sx"}, {"calculate": "cos(datum.o * PI / 180)", "as": "sy"}, {"calculate": "datum.m / 1.2 * datum.sx", "as": "px"}, {"calculate": "datum.m / 1.2 * datum.sy", "as": "py"}],
     "layer": [
      {"mark": {"type": "rule", "color": "#9a9a9a", "strokeDash": [2, 2], "strokeWidth": 0.8}, "encoding": {"x": {"field": "sx", "type": "quantitative", "scale": {"domain": [-1, 1], "range": [32, 132], "nice": false, "zero": false}, "axis": null}, "y": {"field": "sy", "type": "quantitative", "scale": {"domain": [-1, 1], "range": [278.3, 178.3], "nice": false, "zero": false}, "axis": null}, "x2": {"datum": 0}, "y2": {"datum": 0}}},
      {"mark": {"type": "line", "color": "#59acc9", "strokeWidth": 7, "strokeJoin": "round", "strokeCap": "round"}, "encoding": {"x": {"field": "px", "type": "quantitative", "axis": null}, "y": {"field": "py", "type": "quantitative", "axis": null}, "order": {"field": "o", "type": "quantitative"}}},
      {"mark": {"type": "line", "color": "#0b5d78", "strokeWidth": 2, "strokeJoin": "round"}, "encoding": {"x": {"field": "px", "type": "quantitative", "axis": null}, "y": {"field": "py", "type": "quantitative", "axis": null}, "order": {"field": "o", "type": "quantitative"}}}
     ]},
    {"data": {"name": "one"}, "layer": [
      {"mark": {"type": "point", "shape": "circle", "filled": false, "color": "#9a9a9a", "strokeDash": [2, 2], "strokeWidth": 0.8, "size": 1111, "opacity": 1}, "encoding": {"x": {"datum": 0, "type": "quantitative", "axis": null}, "y": {"datum": 0, "type": "quantitative", "axis": null}}},
      {"mark": {"type": "point", "shape": "circle", "filled": false, "color": "#9a9a9a", "strokeDash": [2, 2], "strokeWidth": 0.8, "size": 4444, "opacity": 1}, "encoding": {"x": {"datum": 0, "type": "quantitative", "axis": null}, "y": {"datum": 0, "type": "quantitative", "axis": null}}},
      {"mark": {"type": "point", "shape": "circle", "filled": false, "color": "#000", "strokeWidth": 1.6, "size": 10000, "opacity": 1}, "encoding": {"x": {"datum": 0, "type": "quantitative", "axis": null}, "y": {"datum": 0, "type": "quantitative", "axis": null}}},
      {"mark": {"type": "point", "shape": "circle", "filled": true, "color": "#000", "size": 12, "opacity": 1}, "encoding": {"x": {"datum": 0, "type": "quantitative", "axis": null}, "y": {"datum": 0, "type": "quantitative", "axis": null}}},
      {"mark": {"type": "text", "text": "PSP", "fontSize": 20, "align": "center", "baseline": "alphabetic"}, "encoding": {"x": {"datum": -0.096, "type": "quantitative", "axis": null}, "y": {"datum": 1.12, "type": "quantitative", "axis": null}}},
      {"mark": {"type": "text", "text": "Peak", "fontSize": 12.5, "align": "left", "baseline": "alphabetic"}, "encoding": {"x": {"datum": 0.304, "type": "quantitative", "axis": null}, "y": {"datum": 0.96, "type": "quantitative", "axis": null}}},
      {"mark": {"type": "text", "text": "+90°", "fontSize": 18, "align": "left", "baseline": "middle"}, "encoding": {"x": {"datum": 1.126, "type": "quantitative", "axis": null}, "y": {"datum": 0, "type": "quantitative", "axis": null}}},
      {"mark": {"type": "text", "text": "10 mV", "fontSize": 16, "align": "center", "baseline": "alphabetic"}, "encoding": {"x": {"datum": 1.354, "type": "quantitative", "axis": null}, "y": {"datum": -1.1, "type": "quantitative", "axis": null}}},
      {"mark": {"type": "rule", "color": "#000", "strokeWidth": 1.4}, "encoding": {"x": {"datum": 1.13, "type": "quantitative", "axis": null}, "x2": {"datum": 1.59}, "y": {"datum": -0.77, "type": "quantitative", "axis": null}}}
    ]}
  ]}
 ]
},
{
 "width": 425, "height": 300,
 "layer": [
  {"data": {"name": "one"}, "layer": [
    {"mark": {"type": "rect", "color": "#e1e1e1"}, "encoding": {"x": {"datum": -192, "type": "quantitative", "scale": {"domain": [-180, 180], "range": [68, 398], "nice": false, "zero": false}}, "x2": {"datum": 189}, "y": {"datum": 0.873, "type": "quantitative", "scale": {"domain": [0.3, 1.2], "range": [238.8, 42.7], "nice": false, "zero": false}}, "y2": {"datum": 1.125}}},
    {"mark": {"type": "rule", "color": "#000", "strokeWidth": 1.3, "strokeDash": [5, 4]}, "encoding": {"x": {"datum": -192, "type": "quantitative"}, "x2": {"datum": 189}, "y": {"datum": 1, "type": "quantitative"}}}
  ]},
  {"data": {"name": "tuning"}, "transform": [{"filter": "datum.pn == 'C' && datum.g == 'CT'"}], "layer": [
    {"mark": {"type": "rule", "color": "#c9954a", "strokeWidth": 1.4}, "encoding": {"x": {"field": "o", "type": "quantitative"}, "y": {"field": "lo", "type": "quantitative"}, "y2": {"field": "hi"}}},
    {"mark": {"type": "tick", "orient": "horizontal", "size": 6, "thickness": 1.4, "color": "#c9954a", "opacity": 1}, "encoding": {"x": {"field": "o", "type": "quantitative"}, "y": {"field": "lo", "type": "quantitative"}}},
    {"mark": {"type": "tick", "orient": "horizontal", "size": 6, "thickness": 1.4, "color": "#c9954a", "opacity": 1}, "encoding": {"x": {"field": "o", "type": "quantitative"}, "y": {"field": "hi", "type": "quantitative"}}},
    {"mark": {"type": "line", "color": "#c1832f", "strokeWidth": 1.6}, "encoding": {"x": {"field": "o", "type": "quantitative"}, "y": {"field": "m", "type": "quantitative"}}},
    {"mark": {"type": "point", "filled": true, "size": 75, "color": "#c1832f", "opacity": 1}, "encoding": {"x": {"field": "o", "type": "quantitative"}, "y": {"field": "m", "type": "quantitative"}}}
  ]},
  {"data": {"name": "tuning"}, "transform": [{"filter": "datum.pn == 'C' && datum.g == 'CC'"}], "layer": [
    {"mark": {"type": "rule", "color": "#17708f", "strokeWidth": 1.4}, "encoding": {"x": {"field": "o", "type": "quantitative"}, "y": {"field": "lo", "type": "quantitative"}, "y2": {"field": "hi"}}},
    {"mark": {"type": "tick", "orient": "horizontal", "size": 6, "thickness": 1.4, "color": "#17708f", "opacity": 1}, "encoding": {"x": {"field": "o", "type": "quantitative"}, "y": {"field": "lo", "type": "quantitative"}}},
    {"mark": {"type": "tick", "orient": "horizontal", "size": 6, "thickness": 1.4, "color": "#17708f", "opacity": 1}, "encoding": {"x": {"field": "o", "type": "quantitative"}, "y": {"field": "hi", "type": "quantitative"}}},
    {"mark": {"type": "line", "color": "#0d6888", "strokeWidth": 1.6}, "encoding": {"x": {"field": "o", "type": "quantitative"}, "y": {"field": "m", "type": "quantitative"}}},
    {"mark": {"type": "point", "filled": true, "size": 75, "color": "#0d6888", "opacity": 1}, "encoding": {
      "x": {"field": "o", "type": "quantitative", "axis": {"values": [-180, -120, -60, 0, 60, 120, 180], "labelExpr": "datum.value == 0 ? 'Pref.' : (datum.value > 0 ? '+' : '') + datum.value + '°'", "title": "Orientation (°)", "offset": -56, "tickSize": 6, "labelPadding": 5, "titlePadding": 8}},
      "y": {"field": "m", "type": "quantitative", "axis": {"values": [0.4, 0.6, 0.8, 1.0, 1.2], "format": ".1f", "title": null, "offset": -57, "tickSize": 7, "labelPadding": 2}}}}
  ]},
  {"data": {"name": "one"}, "layer": [
    {"mark": {"type": "text", "text": "CC", "fontSize": 21, "align": "right", "baseline": "alphabetic", "color": "#1b6e8c"}, "encoding": {"x": {"datum": 146, "type": "quantitative"}, "y": {"datum": 0.327, "type": "quantitative"}}},
    {"mark": {"type": "text", "text": "CT", "fontSize": 21, "align": "right", "baseline": "alphabetic", "color": "#c8a66e"}, "encoding": {"x": {"datum": 180, "type": "quantitative"}, "y": {"datum": 0.327, "type": "quantitative"}}},
    {"mark": {"type": "text", "text": "(normed)", "fontSize": 21, "angle": 270, "align": "center", "baseline": "middle"}, "encoding": {"x": {"datum": -267, "type": "quantitative"}, "y": {"datum": 0.973, "type": "quantitative"}}},
    {"mark": {"type": "text", "text": "PSP", "fontSize": 21, "angle": 270, "align": "center", "baseline": "middle"}, "encoding": {"x": {"datum": -267, "type": "quantitative"}, "y": {"datum": 0.441, "type": "quantitative"}}},
    {"mark": {"type": "text", "text": "Integral", "fontSize": 12.5, "angle": 270, "align": "center", "baseline": "middle"}, "encoding": {"x": {"datum": -256.6, "type": "quantitative"}, "y": {"datum": 0.618, "type": "quantitative"}}},
    {"mark": {"type": "text", "text": "C", "fontSize": 23, "fontWeight": "bold", "align": "center", "baseline": "middle"}, "encoding": {"x": {"datum": -281.5, "type": "quantitative"}, "y": {"datum": 1.309, "type": "quantitative"}}}
  ]}
 ]
},
{
 "width": 169, "height": 300,
 "layer": [
  {"data": {"name": "osi"}, "transform": [{"filter": "datum.pn == 'D'"}], "layer": [
    {"mark": {"type": "bar"}, "encoding": {
      "x": {"field": "g", "type": "nominal", "scale": {"domain": ["CC", "CT"], "range": [85.7, 167.7], "paddingInner": 0.464, "paddingOuter": 0}, "axis": {"title": null, "domain": false, "ticks": false, "labelPadding": 6, "labelFontSize": 19, "labelAngle": 0, "offset": -34, "labelColor": {"condition": {"test": "datum.value === 'CC'", "value": "#1b6e8c"}, "value": "#c6a56d"}}},
      "y": {"field": "m", "type": "quantitative", "scale": {"domain": [0, 0.4], "range": [265, 73.3], "nice": false, "zero": false}, "axis": {"values": [0, 0.2, 0.4], "format": ".1f", "title": null, "offset": -75, "tickSize": 8, "labelPadding": 3, "labelFontSize": 19}},
      "y2": {"datum": 0},
      "color": {"field": "g", "type": "nominal", "scale": {"domain": ["CC", "CT"], "range": ["#055c7c", "#ae7227"]}, "legend": null}}},
    {"mark": {"type": "rule", "strokeWidth": 1.8}, "encoding": {"x": {"field": "g", "type": "nominal"}, "y": {"field": "m", "type": "quantitative"}, "y2": {"field": "hi"}, "color": {"field": "g", "type": "nominal", "legend": null}}},
    {"mark": {"type": "tick", "orient": "horizontal", "size": 9, "thickness": 1.8, "opacity": 1}, "encoding": {"x": {"field": "g", "type": "nominal"}, "y": {"field": "hi", "type": "quantitative"}, "color": {"field": "g", "type": "nominal", "legend": null}}}
  ]},
  {"data": {"name": "pair"}, "mark": {"type": "line", "color": "#000", "strokeWidth": 1.6}, "encoding": {"x": {"field": "g", "type": "nominal"}, "y": {"datum": 0.24, "type": "quantitative"}}},
  {"data": {"name": "pair"}, "transform": [{"filter": "datum.g == 'CC'"}], "layer": [
    {"mark": {"type": "text", "text": "ns", "fontSize": 20, "align": "center", "baseline": "alphabetic", "dx": 26.7}, "encoding": {"x": {"field": "g", "type": "nominal"}, "y": {"datum": 0.252, "type": "quantitative"}}},
    {"mark": {"type": "text", "text": "D", "fontSize": 23, "fontWeight": "bold", "align": "center", "baseline": "middle", "dx": -86}, "encoding": {"x": {"field": "g", "type": "nominal"}, "y": {"datum": 0.515, "type": "quantitative"}}},
    {"mark": {"type": "text", "text": "OSI PSP", "fontSize": 21, "angle": 270, "align": "center", "baseline": "middle", "dy": -86.5}, "encoding": {"x": {"field": "g", "type": "nominal"}, "y": {"datum": 0.1625, "type": "quantitative"}}},
    {"mark": {"type": "text", "text": "Integral", "fontSize": 12.5, "angle": 270, "align": "center", "baseline": "middle", "dy": -75}, "encoding": {"x": {"field": "g", "type": "nominal"}, "y": {"datum": 0.276, "type": "quantitative"}}}
  ]}
 ]
},
{
 "width": 285, "height": 299,
 "resolve": {"scale": {"y": "independent"}},
 "layer": [
  {"layer": [
    {"data": {"name": "one"}, "layer": [
      {"mark": {"type": "rect", "color": "#e2e2e2"}, "encoding": {"x": {"datum": 1, "type": "quantitative", "scale": {"domain": [-0.35, 2.55], "range": [67.8, 257.7], "nice": false, "zero": false}, "axis": null}, "x2": {"datum": 2}, "y": {"datum": -3.1, "type": "quantitative", "scale": {"domain": [-5, 20], "range": [111.95, 18.7], "nice": false, "zero": false}, "axis": null}, "y2": {"datum": 15.6}}},
      {"mark": {"type": "rule", "color": "#000", "strokeWidth": 3.5}, "encoding": {"x": {"datum": 0, "type": "quantitative", "axis": null}, "x2": {"datum": 2}, "y": {"datum": 20, "type": "quantitative", "axis": null}}},
      {"mark": {"type": "text", "text": "Pref.", "align": "right", "baseline": "middle", "fontSize": 18}, "encoding": {"x": {"datum": -0.35, "type": "quantitative", "axis": null}, "y": {"datum": 1.3, "type": "quantitative", "axis": null}}},
      {"mark": {"type": "text", "text": "➔", "angle": 63.4, "fontSize": 28, "font": "DejaVu Sans", "align": "center", "baseline": "middle"}, "encoding": {"x": {"datum": -0.557, "type": "quantitative", "axis": null}, "y": {"datum": 11.15, "type": "quantitative", "axis": null}}},
      {"mark": {"type": "text", "text": "B", "fontSize": 23, "fontWeight": "bold", "align": "center", "baseline": "middle"}, "encoding": {"x": {"datum": -1.03, "type": "quantitative", "axis": null}, "y": {"datum": 18.3, "type": "quantitative", "axis": null}}}
    ]},
    {"data": {"name": "traces"}, "transform": [{"filter": "datum.k == 'BP'"}], "mark": {"type": "line", "color": "#111", "strokeWidth": 1.7},
     "encoding": {"x": {"field": "t", "type": "quantitative", "scale": {"domain": [-0.35, 2.55], "range": [67.8, 257.7], "nice": false, "zero": false}, "axis": null}, "y": {"field": "v", "type": "quantitative", "scale": {"domain": [-5, 20], "range": [111.95, 18.7], "nice": false, "zero": false}, "axis": null}, "detail": {"field": "s"}}}
  ]},
  {"layer": [
    {"data": {"name": "one"}, "layer": [
      {"mark": {"type": "rect", "color": "#e2e2e2"}, "encoding": {"x": {"datum": 1, "type": "quantitative", "scale": {"domain": [-0.35, 2.55], "range": [67.8, 257.7], "nice": false, "zero": false}, "axis": null}, "x2": {"datum": 2}, "y": {"datum": -4, "type": "quantitative", "scale": {"domain": [-5, 20], "range": [205.35, 112.1], "nice": false, "zero": false}, "axis": null}, "y2": {"datum": 19.7}}},
      {"mark": {"type": "text", "text": "Ortho.", "align": "right", "baseline": "middle", "fontSize": 18}, "encoding": {"x": {"datum": -0.35, "type": "quantitative", "axis": null}, "y": {"datum": 1.3, "type": "quantitative", "axis": null}}},
      {"mark": {"type": "text", "text": "➔", "angle": -33.6, "fontSize": 28, "font": "DejaVu Sans", "align": "center", "baseline": "middle"}, "encoding": {"x": {"datum": -0.571, "type": "quantitative", "axis": null}, "y": {"datum": 8.95, "type": "quantitative", "axis": null}}}
    ]},
    {"data": {"name": "traces"}, "transform": [{"filter": "datum.k == 'BO'"}], "mark": {"type": "line", "color": "#111", "strokeWidth": 1.7},
     "encoding": {"x": {"field": "t", "type": "quantitative", "scale": {"domain": [-0.35, 2.55], "range": [67.8, 257.7], "nice": false, "zero": false}, "axis": null}, "y": {"field": "v", "type": "quantitative", "scale": {"domain": [-5, 20], "range": [205.35, 112.1], "nice": false, "zero": false}, "axis": null}, "detail": {"field": "s"}}}
  ]},
  {"layer": [
    {"data": {"name": "one"}, "layer": [
      {"mark": {"type": "rect", "color": "#e2e2e2"}, "encoding": {"x": {"datum": 1, "type": "quantitative", "scale": {"domain": [-0.35, 2.55], "range": [67.8, 257.7], "nice": false, "zero": false}, "axis": null}, "x2": {"datum": 2}, "y": {"datum": -4.9, "type": "quantitative", "scale": {"domain": [-5, 20], "range": [300.35, 207.1], "nice": false, "zero": false}, "axis": null}, "y2": {"datum": 19.5}}},
      {"mark": {"type": "text", "text": "Null", "align": "right", "baseline": "middle", "fontSize": 18}, "encoding": {"x": {"datum": -0.36, "type": "quantitative", "axis": null}, "y": {"datum": 1.3, "type": "quantitative", "axis": null}}},
      {"mark": {"type": "text", "text": "➔", "angle": 233.8, "fontSize": 28, "font": "DejaVu Sans", "align": "center", "baseline": "middle"}, "encoding": {"x": {"datum": -0.545, "type": "quantitative", "axis": null}, "y": {"datum": 11.4, "type": "quantitative", "axis": null}}}
    ]},
    {"data": {"name": "traces"}, "transform": [{"filter": "datum.k == 'BN'"}], "mark": {"type": "line", "color": "#111", "strokeWidth": 1.7},
     "encoding": {"x": {"field": "t", "type": "quantitative", "scale": {"domain": [-0.35, 2.55], "range": [67.8, 257.7], "nice": false, "zero": false}, "axis": null}, "y": {"field": "v", "type": "quantitative", "scale": {"domain": [-5, 20], "range": [300.35, 207.1], "nice": false, "zero": false}, "axis": null}, "detail": {"field": "s"}}}
  ]}
 ]
},
{
 "width": 245, "height": 299,
 "resolve": {"scale": {"x": "independent", "y": "independent"}},
 "layer": [
  {"layer": [
    {"data": {"name": "tuning"},
     "transform": [{"filter": "datum.pn == 'C' && datum.g == 'CT'"}, {"calculate": "sin(datum.o * PI / 180)", "as": "sx"}, {"calculate": "cos(datum.o * PI / 180)", "as": "sy"}, {"calculate": "datum.m / 1.75 * datum.sx", "as": "px"}, {"calculate": "datum.m / 1.75 * datum.sy", "as": "py"}],
     "layer": [
      {"mark": {"type": "rule", "color": "#9a9a9a", "strokeDash": [2, 2], "strokeWidth": 0.8}, "encoding": {"x": {"field": "sx", "type": "quantitative", "scale": {"domain": [-1, 1], "range": [32, 132], "nice": false, "zero": false}, "axis": null}, "y": {"field": "sy", "type": "quantitative", "scale": {"domain": [-1, 1], "range": [143.7, 43.7], "nice": false, "zero": false}, "axis": null}, "x2": {"datum": 0}, "y2": {"datum": 0}}},
      {"mark": {"type": "line", "color": "#e3b877", "strokeWidth": 4.5, "strokeJoin": "round", "strokeCap": "round"}, "encoding": {"x": {"field": "px", "type": "quantitative", "axis": null}, "y": {"field": "py", "type": "quantitative", "axis": null}, "order": {"field": "o", "type": "quantitative"}}},
      {"mark": {"type": "line", "color": "#c4882f", "strokeWidth": 2.2, "strokeJoin": "round"}, "encoding": {"x": {"field": "px", "type": "quantitative", "axis": null}, "y": {"field": "py", "type": "quantitative", "axis": null}, "order": {"field": "o", "type": "quantitative"}}}
     ]},
    {"data": {"name": "one"}, "layer": [
      {"mark": {"type": "point", "shape": "circle", "filled": false, "color": "#9a9a9a", "strokeDash": [2, 2], "strokeWidth": 0.8, "size": 1111, "opacity": 1}, "encoding": {"x": {"datum": 0, "type": "quantitative", "axis": null}, "y": {"datum": 0, "type": "quantitative", "axis": null}}},
      {"mark": {"type": "point", "shape": "circle", "filled": false, "color": "#9a9a9a", "strokeDash": [2, 2], "strokeWidth": 0.8, "size": 4444, "opacity": 1}, "encoding": {"x": {"datum": 0, "type": "quantitative", "axis": null}, "y": {"datum": 0, "type": "quantitative", "axis": null}}},
      {"mark": {"type": "point", "shape": "circle", "filled": false, "color": "#000", "strokeWidth": 1.6, "size": 10000, "opacity": 1}, "encoding": {"x": {"datum": 0, "type": "quantitative", "axis": null}, "y": {"datum": 0, "type": "quantitative", "axis": null}}},
      {"mark": {"type": "point", "shape": "circle", "filled": true, "color": "#000", "size": 12, "opacity": 1}, "encoding": {"x": {"datum": 0, "type": "quantitative", "axis": null}, "y": {"datum": 0, "type": "quantitative", "axis": null}}},
      {"mark": {"type": "text", "text": "PSP", "fontSize": 20, "align": "center", "baseline": "alphabetic"}, "encoding": {"x": {"datum": -0.096, "type": "quantitative", "axis": null}, "y": {"datum": 1.174, "type": "quantitative", "axis": null}}},
      {"mark": {"type": "text", "text": "Integral", "fontSize": 12.5, "align": "left", "baseline": "alphabetic"}, "encoding": {"x": {"datum": 0.286, "type": "quantitative", "axis": null}, "y": {"datum": 1.06, "type": "quantitative", "axis": null}}},
      {"mark": {"type": "text", "text": "+90°", "fontSize": 18, "align": "left", "baseline": "middle"}, "encoding": {"x": {"datum": 1.126, "type": "quantitative", "axis": null}, "y": {"datum": 0, "type": "quantitative", "axis": null}}},
      {"mark": {"type": "text", "text": "3 mV.s", "fontSize": 16, "align": "center", "baseline": "alphabetic"}, "encoding": {"x": {"datum": 1.386, "type": "quantitative", "axis": null}, "y": {"datum": -1.16, "type": "quantitative", "axis": null}}},
      {"mark": {"type": "rule", "color": "#000", "strokeWidth": 1.4}, "encoding": {"x": {"datum": 1.114, "type": "quantitative", "axis": null}, "x2": {"datum": 1.594}, "y": {"datum": -0.79, "type": "quantitative", "axis": null}}},
      {"mark": {"type": "text", "text": "CT", "fontSize": 18, "align": "center", "baseline": "middle", "color": "#c6a56d"}, "encoding": {"x": {"datum": -1.446, "type": "quantitative", "axis": null}, "y": {"datum": -0.67, "type": "quantitative", "axis": null}}},
      {"mark": {"type": "text", "text": "n = 28", "fontSize": 18, "align": "center", "baseline": "middle", "color": "#c6a56d"}, "encoding": {"x": {"datum": -1.406, "type": "quantitative", "axis": null}, "y": {"datum": -1.2, "type": "quantitative", "axis": null}}}
    ]}
  ]},
  {"layer": [
    {"data": {"name": "tuning"},
     "transform": [{"filter": "datum.pn == 'E' && datum.g == 'CT'"}, {"calculate": "sin(datum.o * PI / 180)", "as": "sx"}, {"calculate": "cos(datum.o * PI / 180)", "as": "sy"}, {"calculate": "datum.m / 1.33 * datum.sx", "as": "px"}, {"calculate": "datum.m / 1.33 * datum.sy", "as": "py"}],
     "layer": [
      {"mark": {"type": "rule", "color": "#9a9a9a", "strokeDash": [2, 2], "strokeWidth": 0.8}, "encoding": {"x": {"field": "sx", "type": "quantitative", "scale": {"domain": [-1, 1], "range": [32, 132], "nice": false, "zero": false}, "axis": null}, "y": {"field": "sy", "type": "quantitative", "scale": {"domain": [-1, 1], "range": [281.7, 181.7], "nice": false, "zero": false}, "axis": null}, "x2": {"datum": 0}, "y2": {"datum": 0}}},
      {"mark": {"type": "line", "color": "#e3b877", "strokeWidth": 4.5, "strokeJoin": "round", "strokeCap": "round"}, "encoding": {"x": {"field": "px", "type": "quantitative", "axis": null}, "y": {"field": "py", "type": "quantitative", "axis": null}, "order": {"field": "o", "type": "quantitative"}}},
      {"mark": {"type": "line", "color": "#c4882f", "strokeWidth": 2.2, "strokeJoin": "round"}, "encoding": {"x": {"field": "px", "type": "quantitative", "axis": null}, "y": {"field": "py", "type": "quantitative", "axis": null}, "order": {"field": "o", "type": "quantitative"}}}
     ]},
    {"data": {"name": "one"}, "layer": [
      {"mark": {"type": "point", "shape": "circle", "filled": false, "color": "#9a9a9a", "strokeDash": [2, 2], "strokeWidth": 0.8, "size": 1111, "opacity": 1}, "encoding": {"x": {"datum": 0, "type": "quantitative", "axis": null}, "y": {"datum": 0, "type": "quantitative", "axis": null}}},
      {"mark": {"type": "point", "shape": "circle", "filled": false, "color": "#9a9a9a", "strokeDash": [2, 2], "strokeWidth": 0.8, "size": 4444, "opacity": 1}, "encoding": {"x": {"datum": 0, "type": "quantitative", "axis": null}, "y": {"datum": 0, "type": "quantitative", "axis": null}}},
      {"mark": {"type": "point", "shape": "circle", "filled": false, "color": "#000", "strokeWidth": 1.6, "size": 10000, "opacity": 1}, "encoding": {"x": {"datum": 0, "type": "quantitative", "axis": null}, "y": {"datum": 0, "type": "quantitative", "axis": null}}},
      {"mark": {"type": "point", "shape": "circle", "filled": true, "color": "#000", "size": 12, "opacity": 1}, "encoding": {"x": {"datum": 0, "type": "quantitative", "axis": null}, "y": {"datum": 0, "type": "quantitative", "axis": null}}},
      {"mark": {"type": "text", "text": "PSP", "fontSize": 20, "align": "center", "baseline": "alphabetic"}, "encoding": {"x": {"datum": -0.096, "type": "quantitative", "axis": null}, "y": {"datum": 1.1, "type": "quantitative", "axis": null}}},
      {"mark": {"type": "text", "text": "Peak", "fontSize": 12.5, "align": "left", "baseline": "alphabetic"}, "encoding": {"x": {"datum": 0.304, "type": "quantitative", "axis": null}, "y": {"datum": 0.94, "type": "quantitative", "axis": null}}},
      {"mark": {"type": "text", "text": "+90°", "fontSize": 18, "align": "left", "baseline": "middle"}, "encoding": {"x": {"datum": 1.126, "type": "quantitative", "axis": null}, "y": {"datum": 0, "type": "quantitative", "axis": null}}},
      {"mark": {"type": "text", "text": "10 mV", "fontSize": 16, "align": "center", "baseline": "alphabetic"}, "encoding": {"x": {"datum": 1.354, "type": "quantitative", "axis": null}, "y": {"datum": -1.166, "type": "quantitative", "axis": null}}},
      {"mark": {"type": "rule", "color": "#000", "strokeWidth": 1.4}, "encoding": {"x": {"datum": 1.13, "type": "quantitative", "axis": null}, "x2": {"datum": 1.59}, "y": {"datum": -0.8, "type": "quantitative", "axis": null}}}
    ]}
  ]}
 ]
},
{
 "width": 425, "height": 299,
 "layer": [
  {"data": {"name": "one"}, "layer": [
    {"mark": {"type": "rect", "color": "#e1e1e1"}, "encoding": {"x": {"datum": -192, "type": "quantitative", "scale": {"domain": [-180, 180], "range": [68, 398], "nice": false, "zero": false}}, "x2": {"datum": 189}, "y": {"datum": 0.903, "type": "quantitative", "scale": {"domain": [0.3, 1.2], "range": [234.8, 36], "nice": false, "zero": false}}, "y2": {"datum": 1.094}}},
    {"mark": {"type": "rule", "color": "#000", "strokeWidth": 1.3, "strokeDash": [5, 4]}, "encoding": {"x": {"datum": -192, "type": "quantitative"}, "x2": {"datum": 189}, "y": {"datum": 1, "type": "quantitative"}}}
  ]},
  {"data": {"name": "tuning"}, "transform": [{"filter": "datum.pn == 'E' && datum.g == 'CT'"}], "layer": [
    {"mark": {"type": "rule", "color": "#c9954a", "strokeWidth": 1.4}, "encoding": {"x": {"field": "o", "type": "quantitative"}, "y": {"field": "lo", "type": "quantitative"}, "y2": {"field": "hi"}}},
    {"mark": {"type": "tick", "orient": "horizontal", "size": 6, "thickness": 1.4, "color": "#c9954a", "opacity": 1}, "encoding": {"x": {"field": "o", "type": "quantitative"}, "y": {"field": "lo", "type": "quantitative"}}},
    {"mark": {"type": "tick", "orient": "horizontal", "size": 6, "thickness": 1.4, "color": "#c9954a", "opacity": 1}, "encoding": {"x": {"field": "o", "type": "quantitative"}, "y": {"field": "hi", "type": "quantitative"}}},
    {"mark": {"type": "line", "color": "#c1832f", "strokeWidth": 1.6}, "encoding": {"x": {"field": "o", "type": "quantitative"}, "y": {"field": "m", "type": "quantitative"}}},
    {"mark": {"type": "point", "filled": true, "size": 75, "color": "#c1832f", "opacity": 1}, "encoding": {"x": {"field": "o", "type": "quantitative"}, "y": {"field": "m", "type": "quantitative"}}}
  ]},
  {"data": {"name": "tuning"}, "transform": [{"filter": "datum.pn == 'E' && datum.g == 'CC'"}], "layer": [
    {"mark": {"type": "rule", "color": "#17708f", "strokeWidth": 1.4}, "encoding": {"x": {"field": "o", "type": "quantitative"}, "y": {"field": "lo", "type": "quantitative"}, "y2": {"field": "hi"}}},
    {"mark": {"type": "tick", "orient": "horizontal", "size": 6, "thickness": 1.4, "color": "#17708f", "opacity": 1}, "encoding": {"x": {"field": "o", "type": "quantitative"}, "y": {"field": "lo", "type": "quantitative"}}},
    {"mark": {"type": "tick", "orient": "horizontal", "size": 6, "thickness": 1.4, "color": "#17708f", "opacity": 1}, "encoding": {"x": {"field": "o", "type": "quantitative"}, "y": {"field": "hi", "type": "quantitative"}}},
    {"mark": {"type": "line", "color": "#0d6888", "strokeWidth": 1.6}, "encoding": {"x": {"field": "o", "type": "quantitative"}, "y": {"field": "m", "type": "quantitative"}}},
    {"mark": {"type": "point", "filled": true, "size": 75, "color": "#0d6888", "opacity": 1}, "encoding": {
      "x": {"field": "o", "type": "quantitative", "axis": {"values": [-180, -120, -60, 0, 60, 120, 180], "labelExpr": "datum.value == 0 ? 'Pref.' : (datum.value > 0 ? '+' : '') + datum.value + '°'", "title": "Orientation (°)", "offset": -60.3, "tickSize": 6, "labelPadding": 5, "titlePadding": 8}},
      "y": {"field": "m", "type": "quantitative", "axis": {"values": [0.4, 0.6, 0.8, 1.0, 1.2], "format": ".1f", "title": null, "offset": -57, "tickSize": 7, "labelPadding": 2}}}}
  ]},
  {"data": {"name": "one"}, "layer": [
    {"mark": {"type": "text", "text": "CC", "fontSize": 21, "align": "right", "baseline": "alphabetic", "color": "#1b6e8c"}, "encoding": {"x": {"datum": 146, "type": "quantitative"}, "y": {"datum": 0.353, "type": "quantitative"}}},
    {"mark": {"type": "text", "text": "CT", "fontSize": 21, "align": "right", "baseline": "alphabetic", "color": "#c8a66e"}, "encoding": {"x": {"datum": 180, "type": "quantitative"}, "y": {"datum": 0.353, "type": "quantitative"}}},
    {"mark": {"type": "text", "text": "(normed)", "fontSize": 21, "angle": 270, "align": "center", "baseline": "middle"}, "encoding": {"x": {"datum": -267, "type": "quantitative"}, "y": {"datum": 0.965, "type": "quantitative"}}},
    {"mark": {"type": "text", "text": "PSP", "fontSize": 21, "angle": 270, "align": "center", "baseline": "middle"}, "encoding": {"x": {"datum": -267, "type": "quantitative"}, "y": {"datum": 0.396, "type": "quantitative"}}},
    {"mark": {"type": "text", "text": "Peak", "fontSize": 12.5, "angle": 270, "align": "center", "baseline": "middle"}, "encoding": {"x": {"datum": -256.6, "type": "quantitative"}, "y": {"datum": 0.566, "type": "quantitative"}}},
    {"mark": {"type": "text", "text": "E", "fontSize": 23, "fontWeight": "bold", "align": "center", "baseline": "middle"}, "encoding": {"x": {"datum": -281.5, "type": "quantitative"}, "y": {"datum": 1.238, "type": "quantitative"}}}
  ]}
 ]
},
{
 "width": 169, "height": 299,
 "layer": [
  {"data": {"name": "osi"}, "transform": [{"filter": "datum.pn == 'F'"}], "layer": [
    {"mark": {"type": "bar"}, "encoding": {
      "x": {"field": "g", "type": "nominal", "scale": {"domain": ["CC", "CT"], "range": [85.7, 167.7], "paddingInner": 0.464, "paddingOuter": 0}, "axis": {"title": null, "domain": false, "ticks": false, "labelPadding": 6, "labelFontSize": 19, "labelAngle": 0, "offset": -37.5, "labelColor": {"condition": {"test": "datum.value === 'CC'", "value": "#1b6e8c"}, "value": "#c6a56d"}}},
      "y": {"field": "m", "type": "quantitative", "scale": {"domain": [0, 0.4], "range": [259.3, 67.7], "nice": false, "zero": false}, "axis": {"values": [0, 0.2, 0.4], "format": ".1f", "title": null, "offset": -75, "tickSize": 8, "labelPadding": 3, "labelFontSize": 19}},
      "y2": {"datum": 0},
      "color": {"field": "g", "type": "nominal", "scale": {"domain": ["CC", "CT"], "range": ["#055c7c", "#ae7227"]}, "legend": null}}},
    {"mark": {"type": "rule", "strokeWidth": 1.8}, "encoding": {"x": {"field": "g", "type": "nominal"}, "y": {"field": "m", "type": "quantitative"}, "y2": {"field": "hi"}, "color": {"field": "g", "type": "nominal", "legend": null}}},
    {"mark": {"type": "tick", "orient": "horizontal", "size": 9, "thickness": 1.8, "opacity": 1}, "encoding": {"x": {"field": "g", "type": "nominal"}, "y": {"field": "hi", "type": "quantitative"}, "color": {"field": "g", "type": "nominal", "legend": null}}}
  ]},
  {"data": {"name": "pair"}, "mark": {"type": "line", "color": "#000", "strokeWidth": 1.6}, "encoding": {"x": {"field": "g", "type": "nominal"}, "y": {"datum": 0.397, "type": "quantitative"}}},
  {"data": {"name": "pair"}, "transform": [{"filter": "datum.g == 'CC'"}], "layer": [
    {"mark": {"type": "text", "text": "*", "fontSize": 24, "align": "center", "baseline": "alphabetic", "dx": 26.7}, "encoding": {"x": {"field": "g", "type": "nominal"}, "y": {"datum": 0.405, "type": "quantitative"}}},
    {"mark": {"type": "text", "text": "F", "fontSize": 23, "fontWeight": "bold", "align": "center", "baseline": "middle", "dx": -84}, "encoding": {"x": {"field": "g", "type": "nominal"}, "y": {"datum": 0.481, "type": "quantitative"}}},
    {"mark": {"type": "text", "text": "OSI PSP", "fontSize": 21, "angle": 270, "align": "center", "baseline": "middle", "dy": -86.5}, "encoding": {"x": {"field": "g", "type": "nominal"}, "y": {"datum": 0.151, "type": "quantitative"}}},
    {"mark": {"type": "text", "text": "Peak", "fontSize": 12.5, "angle": 270, "align": "center", "baseline": "middle", "dy": -75}, "encoding": {"x": {"field": "g", "type": "nominal"}, "y": {"datum": 0.288, "type": "quantitative"}}}
  ]}
 ]
}
]
}
